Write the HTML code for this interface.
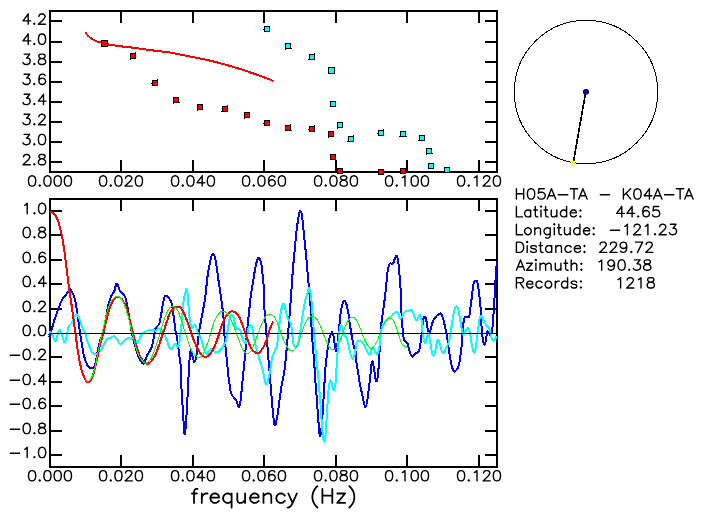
<!DOCTYPE html><html><head><meta charset="utf-8"><title>plot</title><style>html,body{margin:0;padding:0;background:#fff}svg{display:block}text{font-family:"Liberation Sans",sans-serif;fill:#000;stroke:#000;stroke-width:0.3px}</style></head><body>
<svg width="704" height="519" viewBox="0 0 704 519">
<rect width="704" height="519" fill="#fff"/>
<g fill="none" stroke="#000" stroke-width="2" shape-rendering="crispEdges">
<rect x="50" y="11" width="447.0" height="161.0"/>
<rect x="50" y="199" width="447.0" height="268.0"/>
<path d="M121.0,11 v12 M121.0,172 v-12 M121.0,199 v12 M121.0,467 v-12 M193.0,11 v12 M193.0,172 v-12 M193.0,199 v12 M193.0,467 v-12 M264.0,11 v12 M264.0,172 v-12 M264.0,199 v12 M264.0,467 v-12 M336.0,11 v12 M336.0,172 v-12 M336.0,199 v12 M336.0,467 v-12 M407.0,11 v12 M407.0,172 v-12 M407.0,199 v12 M407.0,467 v-12 M479.0,11 v12 M479.0,172 v-12 M479.0,199 v12 M479.0,467 v-12 M50,162 h12 M497,162 h-12 M50,142 h12 M497,142 h-12 M50,122 h12 M497,122 h-12 M50,102 h12 M497,102 h-12 M50,82 h12 M497,82 h-12 M50,62 h12 M497,62 h-12 M50,42 h12 M497,42 h-12 M50,21 h12 M497,21 h-12 M50,455.0 h12 M497,455.0 h-12 M50,431.0 h12 M497,431.0 h-12 M50,406.0 h12 M497,406.0 h-12 M50,382.0 h12 M497,382.0 h-12 M50,357.0 h12 M497,357.0 h-12 M50,309.0 h12 M497,309.0 h-12 M50,284.0 h12 M497,284.0 h-12 M50,260.0 h12 M497,260.0 h-12 M50,235.0 h12 M497,235.0 h-12 M50,211.0 h12 M497,211.0 h-12 "/>
</g>
<g fill="none" stroke-linejoin="round" stroke-linecap="butt" shape-rendering="crispEdges">
<path d="M48.7,335.5 C49.0,335.2 48.9,336.7 49.8,334.5 C50.7,332.4 51.3,330.4 52.5,326.4 C53.8,322.3 53.8,321.7 55.3,317.3 C56.8,312.8 57.2,311.5 58.9,307.3 C60.6,303.0 60.8,302.1 62.5,299.1 C64.2,296.1 64.7,296.5 66.2,294.5 C67.7,292.6 68.1,292.2 68.9,290.9 C69.8,289.6 69.0,288.7 69.8,289.1 C70.7,289.5 71.3,290.0 72.5,292.7 C73.8,295.5 74.2,296.5 75.3,300.9 C76.3,305.4 76.2,306.3 77.1,311.8 C77.9,317.3 78.1,318.6 78.9,324.5 C79.8,330.5 79.9,331.8 80.7,337.3 C81.6,342.8 81.7,343.5 82.5,348.2 C83.4,352.8 83.3,353.5 84.4,357.3 C85.4,361.1 85.8,362.1 87.1,364.5 C88.4,367.0 88.3,367.1 89.8,367.8 C91.3,368.6 92.1,369.0 93.5,367.8 C94.8,366.6 94.7,366.5 95.6,362.7 C96.6,359.0 96.5,356.7 97.5,351.8 C98.4,346.9 98.8,345.2 99.8,341.8 C100.8,338.4 100.8,339.4 101.6,337.3 C102.5,335.2 102.6,336.1 103.5,332.7 C104.3,329.3 104.4,327.6 105.3,322.7 C106.1,317.8 106.2,316.5 107.1,311.8 C107.9,307.2 107.8,306.5 108.9,302.7 C110.0,298.9 110.4,298.2 111.6,295.5 C112.9,292.7 113.2,293.7 114.4,290.9 C115.6,288.2 115.5,283.6 116.7,283.6 C118.0,283.6 118.5,288.6 119.8,290.9 C121.2,293.2 121.3,292.2 122.5,293.6 C123.8,295.1 124.2,294.7 125.3,297.3 C126.3,299.8 126.2,300.3 127.1,304.5 C127.9,308.8 128.1,310.4 128.9,315.5 C129.8,320.5 129.9,321.7 130.7,326.4 C131.6,331.0 131.5,330.8 132.5,335.5 C133.6,340.1 134.0,341.7 135.3,346.4 C136.5,351.0 136.7,352.1 138.0,355.5 C139.3,358.8 139.5,359.0 140.7,360.9 C142.0,362.8 142.4,363.8 143.5,363.6 C144.5,363.4 144.4,361.9 145.3,360.0 C146.1,358.1 146.0,357.6 147.1,355.5 C148.2,353.3 148.8,352.8 149.8,350.9 C150.9,349.0 150.8,350.0 151.6,347.3 C152.5,344.5 152.6,343.3 153.5,339.1 C154.3,334.8 154.4,332.1 155.3,329.1 C156.1,326.1 156.2,327.6 157.1,326.4 C158.0,325.1 158.4,325.8 159.3,323.6 C160.1,321.5 160.0,321.3 160.7,317.3 C161.5,313.2 161.7,311.0 162.5,306.4 C163.4,301.7 163.5,299.7 164.4,297.3 C165.2,294.8 165.1,295.6 166.2,295.8 C167.2,296.0 167.6,296.4 168.9,298.2 C170.2,300.0 170.6,299.6 171.6,303.6 C172.7,307.7 172.6,309.5 173.5,315.5 C174.3,321.4 174.8,325.5 175.3,329.1 C175.7,332.7 175.0,328.6 175.5,330.9 C175.9,333.2 176.4,333.8 177.3,339.1 C178.1,344.4 178.2,346.8 179.1,353.6 C179.9,360.4 180.4,361.0 180.9,368.2 C181.4,375.4 180.9,376.5 181.3,384.5 C181.6,392.6 181.9,394.2 182.4,402.7 C182.9,411.2 182.9,413.7 183.5,420.9 C184.0,428.1 184.0,431.9 184.5,433.6 C185.1,435.3 185.1,433.3 185.6,428.2 C186.1,423.1 186.2,420.3 186.7,411.8 C187.2,403.3 187.3,402.4 187.8,391.8 C188.4,381.2 188.5,375.7 189.1,366.4 C189.7,357.0 189.8,355.2 190.4,351.8 C190.9,348.4 190.9,350.5 191.5,351.8 C192.0,353.1 192.0,354.9 192.7,357.3 C193.4,359.6 193.7,362.2 194.5,361.8 C195.4,361.4 195.5,360.8 196.4,355.5 C197.2,350.2 197.3,345.9 198.2,339.1 C199.0,332.3 198.9,332.7 200.0,326.4 C201.1,320.0 201.5,319.0 202.7,311.8 C204.0,304.6 204.4,303.3 205.5,295.5 C206.5,287.6 206.4,284.8 207.3,278.2 C208.1,271.6 208.2,271.9 209.1,267.3 C209.9,262.6 210.0,261.4 210.9,258.2 C211.8,255.0 212.1,253.6 213.1,253.6 C214.1,253.6 214.2,254.6 215.1,258.2 C216.0,261.8 216.1,263.6 216.9,269.1 C217.8,274.6 217.6,274.0 218.7,281.8 C219.9,289.7 220.7,294.0 221.8,302.7 C223.0,311.4 223.0,311.5 223.6,319.1 C224.3,326.7 223.9,327.0 224.5,335.5 C225.2,343.9 225.5,346.5 226.4,355.5 C227.2,364.4 227.5,367.7 228.2,373.6 C228.8,379.6 228.5,376.5 229.1,380.9 C229.7,385.4 229.8,388.9 230.9,392.7 C232.0,396.5 232.4,395.4 233.6,397.3 C234.9,399.2 235.2,398.7 236.4,400.9 C237.6,403.2 237.8,406.9 238.7,406.9 C239.7,406.9 239.8,405.3 240.5,400.9 C241.3,396.5 241.1,395.4 241.8,388.2 C242.5,381.0 242.8,378.9 243.6,370.0 C244.5,361.1 244.6,359.3 245.5,350.0 C246.3,340.7 246.4,338.9 247.3,330.0 C248.1,321.1 248.2,319.9 249.1,311.8 C249.9,303.8 249.8,303.3 250.9,295.5 C252.0,287.6 252.6,284.8 253.6,278.2 C254.7,271.6 254.6,271.5 255.5,267.3 C256.3,263.0 256.4,262.2 257.3,260.0 C258.1,257.8 258.2,257.4 259.1,257.8 C259.9,258.2 260.1,258.3 260.9,261.8 C261.7,265.3 261.7,267.2 262.4,272.7 C263.0,278.2 263.2,278.0 263.6,285.5 C264.1,292.9 263.8,295.8 264.2,304.5 C264.6,313.2 264.7,313.4 265.5,322.7 C266.2,332.1 266.4,334.4 267.3,344.5 C268.1,354.7 268.2,356.2 269.1,366.4 C269.9,376.5 270.1,378.0 270.9,388.2 C271.8,398.4 271.9,401.5 272.7,410.0 C273.6,418.5 273.7,422.0 274.5,424.5 C275.4,427.1 275.5,424.3 276.4,420.9 C277.2,417.5 277.1,417.2 278.2,410.0 C279.2,402.8 279.6,398.1 280.9,390.0 C282.2,381.9 282.8,380.1 283.6,375.5 C284.5,370.8 283.9,375.5 284.5,370.0 C285.2,364.5 285.5,360.7 286.4,351.8 C287.2,342.9 287.3,341.6 288.2,331.8 C289.0,322.1 288.9,324.6 290.0,310.0 C291.1,295.4 292.0,280.8 292.9,269.1 C293.8,257.4 293.2,266.8 293.8,260.0 C294.5,253.2 294.8,248.5 295.6,240.0 C296.5,231.5 296.6,230.0 297.5,223.6 C298.3,217.3 298.6,215.7 299.3,212.7 C300.0,209.8 299.9,210.3 300.5,210.9 C301.2,211.5 301.4,211.6 302.0,215.5 C302.6,219.3 302.6,221.1 303.3,227.3 C303.9,233.4 304.0,235.0 304.7,241.8 C305.4,248.6 305.5,249.2 306.2,256.4 C306.9,263.6 307.0,265.9 307.6,272.7 C308.2,279.5 308.1,278.9 308.7,285.5 C309.3,292.0 309.6,293.5 310.2,300.9 C310.7,308.3 310.7,309.2 311.1,317.3 C311.5,325.3 311.4,327.0 312.0,335.5 C312.6,343.9 312.8,345.6 313.5,353.6 C314.1,361.7 314.2,362.8 314.7,370.0 C315.2,377.2 315.1,376.9 315.6,384.5 C316.2,392.2 316.5,394.2 317.1,402.7 C317.7,411.2 317.8,413.5 318.4,420.9 C319.0,428.3 319.1,431.6 319.6,434.5 C320.2,437.5 320.2,436.4 320.7,433.6 C321.3,430.9 321.4,429.9 322.0,422.7 C322.6,415.5 322.7,411.6 323.3,402.7 C323.8,393.8 323.8,393.0 324.4,384.5 C324.9,376.1 324.9,374.4 325.6,366.4 C326.4,358.3 326.6,356.4 327.5,350.0 C328.3,343.6 328.4,342.9 329.3,339.1 C330.1,335.3 330.4,335.1 331.1,333.6 C331.8,332.2 331.7,331.9 332.4,332.7 C333.0,333.6 333.1,333.7 333.8,337.3 C334.5,340.9 334.6,345.2 335.3,348.2 C335.9,351.2 336.0,351.7 336.5,350.0 C337.1,348.3 337.2,346.4 337.8,340.9 C338.5,335.4 338.5,333.6 339.3,326.4 C340.0,319.2 340.2,315.5 341.1,310.0 C341.9,304.5 342.1,304.8 342.9,302.7 C343.8,300.6 343.9,300.5 344.7,300.9 C345.6,301.3 345.7,301.6 346.5,304.5 C347.4,307.5 347.5,308.5 348.4,313.6 C349.2,318.7 349.3,320.8 350.2,326.4 C351.0,331.9 351.2,332.6 352.0,337.3 C352.8,341.9 353.0,343.0 353.8,346.4 C354.7,349.8 355.0,348.0 355.6,351.8 C356.3,355.6 355.9,357.6 356.5,362.7 C357.2,367.8 357.7,369.4 358.4,373.6 C359.0,377.9 358.4,376.2 359.3,380.9 C360.1,385.6 360.8,388.1 362.0,393.6 C363.2,399.2 363.5,401.4 364.4,404.5 C365.2,407.6 365.0,407.3 365.6,406.9 C366.2,406.5 366.2,406.7 366.9,402.7 C367.6,398.8 368.0,395.9 368.7,390.0 C369.5,384.1 369.5,383.4 370.2,377.3 C370.9,371.1 371.0,367.0 371.6,363.6 C372.3,360.2 372.3,361.2 372.9,362.7 C373.5,364.2 373.5,366.2 374.2,370.0 C374.8,373.8 375.0,376.8 375.6,379.1 C376.3,381.4 376.5,382.1 377.1,380.0 C377.7,377.9 377.9,375.7 378.4,370.0 C378.9,364.3 378.8,362.7 379.3,355.5 C379.7,348.2 379.8,345.9 380.2,339.1 C380.6,332.3 380.5,332.7 381.1,326.4 C381.7,320.0 382.1,318.2 382.9,311.8 C383.8,305.5 383.9,306.1 384.7,299.1 C385.6,292.1 385.8,288.8 386.5,281.8 C387.3,274.8 387.2,273.3 388.0,269.1 C388.8,264.8 388.7,264.9 389.8,263.6 C391.0,262.4 391.8,264.7 392.9,263.6 C394.1,262.6 393.9,260.9 394.7,259.1 C395.6,257.3 395.8,255.8 396.5,256.0 C397.3,256.2 397.4,256.1 398.0,260.0 C398.6,263.9 398.7,266.8 399.3,272.7 C399.8,278.7 399.9,278.0 400.4,285.5 C400.8,292.9 400.7,296.3 401.1,304.5 C401.5,312.8 401.5,313.7 402.0,320.9 C402.5,328.1 402.6,330.8 403.3,335.5 C403.9,340.1 403.8,339.0 404.7,340.9 C405.7,342.8 406.4,341.5 407.5,343.6 C408.5,345.8 408.4,347.2 409.3,350.0 C410.1,352.8 410.2,354.0 411.1,355.5 C411.9,356.9 411.8,356.8 412.9,356.4 C414.0,355.9 414.4,354.7 415.6,353.6 C416.9,352.6 417.3,353.5 418.4,351.8 C419.4,350.1 419.3,349.8 420.0,346.4 C420.7,343.0 420.7,341.9 421.3,337.3 C421.8,332.6 421.8,330.8 422.4,326.4 C422.9,321.9 422.9,320.3 423.6,318.2 C424.4,316.1 424.7,316.2 425.5,317.3 C426.2,318.3 426.1,319.3 426.7,322.7 C427.4,326.1 427.5,329.3 428.2,331.8 C428.9,334.4 429.0,334.5 429.6,333.6 C430.3,332.8 430.2,330.9 430.9,328.2 C431.6,325.4 431.7,324.4 432.7,321.8 C433.8,319.3 434.2,319.0 435.5,317.3 C436.7,315.6 436.9,315.4 438.2,314.5 C439.5,313.7 439.8,313.0 440.9,313.6 C442.0,314.3 441.9,314.7 442.7,317.3 C443.6,319.8 443.7,320.7 444.5,324.5 C445.4,328.4 445.5,329.0 446.4,333.6 C447.2,338.3 447.3,339.0 448.2,344.5 C449.0,350.1 449.2,352.2 450.0,357.3 C450.8,362.4 451.0,363.2 451.8,366.4 C452.7,369.5 452.8,369.8 453.6,370.9 C454.5,372.0 454.4,371.8 455.5,370.9 C456.5,370.1 457.1,370.0 458.2,367.3 C459.2,364.5 459.2,364.4 460.0,359.1 C460.8,353.8 461.2,351.3 461.8,344.5 C462.5,337.8 462.2,335.9 462.7,330.0 C463.3,324.1 463.3,322.1 464.2,319.1 C465.0,316.1 465.2,317.9 466.4,317.3 C467.5,316.6 468.2,318.5 469.1,316.4 C470.0,314.2 469.7,312.6 470.4,308.2 C471.0,303.7 471.1,302.6 471.8,297.3 C472.5,292.0 472.6,289.1 473.3,285.5 C473.9,281.8 473.9,282.9 474.5,281.8 C475.2,280.8 475.3,280.5 476.0,280.9 C476.7,281.3 476.7,279.0 477.6,283.6 C478.6,288.3 479.2,293.5 480.0,300.9 C480.8,308.3 480.5,308.7 480.9,315.5 C481.3,322.2 481.3,324.1 481.8,330.0 C482.3,335.9 482.5,337.5 483.1,340.9 C483.7,344.3 483.9,345.0 484.5,344.5 C485.2,344.1 485.4,342.1 486.0,339.1 C486.6,336.1 486.6,333.1 487.3,331.8 C488.0,330.5 488.2,332.8 489.1,333.6 C489.9,334.5 490.2,336.3 490.9,335.5 C491.6,334.6 491.6,334.2 492.2,330.0 C492.7,325.8 492.8,323.2 493.3,317.3 C493.7,311.3 493.7,313.2 494.2,304.5 C494.7,295.8 494.9,288.7 495.5,280.0 C496.0,271.3 495.9,271.7 496.4,267.3 C496.8,262.8 497.1,262.4 497.3,260.9" stroke="#0000ff" stroke-width="2"/>
<path d="M48.9,332.2 C49.3,332.3 49.9,332.0 50.7,332.7 C51.6,333.5 51.7,333.8 52.5,335.5 C53.4,337.2 53.5,338.9 54.4,340.0 C55.2,341.1 55.3,341.5 56.2,340.0 C57.0,338.5 57.2,336.0 58.0,333.6 C58.8,331.3 59.0,330.0 59.8,330.0 C60.7,330.0 60.8,331.3 61.6,333.6 C62.5,336.0 62.6,338.1 63.5,340.0 C64.3,341.9 64.4,343.1 65.3,341.8 C66.1,340.5 66.2,338.2 67.1,334.5 C67.9,330.9 67.8,329.1 68.9,326.4 C70.0,323.6 70.4,324.8 71.6,322.7 C72.9,320.6 73.3,319.2 74.4,317.3 C75.4,315.4 75.3,315.0 76.2,314.5 C77.0,314.1 77.2,314.2 78.0,315.5 C78.8,316.7 78.8,317.0 79.8,320.0 C80.9,323.0 81.3,325.0 82.5,328.2 C83.8,331.4 84.2,330.9 85.3,333.6 C86.3,336.4 86.0,336.8 87.1,340.0 C88.2,343.2 88.5,344.3 89.8,347.3 C91.1,350.2 91.3,351.2 92.5,352.7 C93.8,354.3 94.0,354.0 95.3,354.0 C96.5,354.0 96.5,353.9 98.0,352.7 C99.5,351.6 100.2,351.2 101.6,349.1 C103.1,347.0 103.1,346.0 104.4,343.6 C105.6,341.3 105.6,340.5 107.1,339.1 C108.6,337.7 109.0,338.3 110.7,337.6 C112.4,337.0 112.9,336.0 114.4,336.4 C115.8,336.7 115.8,337.4 117.1,339.1 C118.4,340.8 118.5,342.8 119.8,343.6 C121.1,344.5 121.1,343.8 122.5,342.7 C124.0,341.7 124.3,340.3 126.2,339.1 C128.1,337.9 128.8,337.6 130.7,337.6 C132.6,337.6 132.9,337.9 134.4,339.1 C135.8,340.3 136.0,342.5 137.1,342.7 C138.2,342.9 137.8,341.9 138.9,340.0 C140.0,338.1 140.2,336.5 141.6,334.5 C143.1,332.6 143.4,332.9 145.3,331.8 C147.2,330.8 147.9,330.5 149.8,330.0 C151.7,329.5 152.0,329.4 153.5,329.6 C154.9,329.8 155.1,331.2 156.2,330.9 C157.2,330.6 157.2,328.6 158.0,328.2 C158.8,327.8 159.0,328.5 159.8,329.1 C160.7,329.7 160.6,329.6 161.6,330.9 C162.7,332.2 163.1,332.2 164.4,334.5 C165.6,336.9 166.0,338.2 167.1,340.9 C168.2,343.7 167.8,344.5 168.9,346.4 C170.0,348.3 170.7,348.9 171.6,349.1 C172.5,349.3 171.8,348.5 172.7,347.3 C173.6,346.0 174.2,343.8 175.5,343.6 C176.7,343.4 177.1,347.8 178.2,346.4 C179.2,344.9 179.2,343.2 180.0,337.3 C180.8,331.3 181.0,329.4 181.8,320.9 C182.7,312.4 182.8,307.7 183.6,300.9 C184.5,294.1 184.9,294.7 185.5,291.8 C186.0,288.9 185.6,288.5 186.0,288.5 C186.4,288.5 186.8,288.9 187.3,291.8 C187.8,294.7 187.8,295.8 188.2,300.9 C188.6,306.0 188.5,307.7 189.1,313.6 C189.7,319.6 190.1,323.2 190.9,326.4 C191.8,329.5 191.9,327.7 192.7,327.3 C193.6,326.8 193.7,324.5 194.5,324.5 C195.4,324.5 195.5,324.9 196.4,327.3 C197.2,329.6 197.3,332.4 198.2,334.5 C199.0,336.7 199.2,334.9 200.0,336.4 C200.8,337.8 201.0,338.2 201.8,340.9 C202.7,343.7 202.8,345.4 203.6,348.2 C204.5,350.9 204.6,351.5 205.5,352.7 C206.3,354.0 206.4,354.1 207.3,353.6 C208.1,353.2 208.0,352.0 209.1,350.9 C210.2,349.8 210.5,348.9 211.8,349.1 C213.1,349.3 213.1,351.2 214.5,351.8 C216.0,352.5 216.7,352.5 218.2,351.8 C219.7,351.2 219.4,351.0 220.9,349.1 C222.4,347.2 223.3,346.0 224.5,343.6 C225.8,341.3 225.5,343.1 226.4,339.1 C227.2,335.1 227.3,331.5 228.2,326.4 C229.0,321.3 229.2,320.0 230.0,317.3 C230.8,314.5 231.0,314.5 231.8,314.5 C232.7,314.5 232.8,314.5 233.6,317.3 C234.5,320.0 234.6,323.6 235.5,326.4 C236.3,329.1 236.2,328.2 237.3,329.1 C238.3,329.9 238.9,328.3 240.0,330.0 C241.1,331.7 240.8,333.4 241.8,336.4 C242.9,339.3 243.5,341.7 244.5,342.7 C245.6,343.8 245.5,344.1 246.4,340.9 C247.2,337.7 247.1,332.7 248.2,329.1 C249.2,325.5 249.8,325.2 250.9,325.5 C252.0,325.7 251.9,326.4 252.7,330.0 C253.6,333.6 253.5,335.8 254.5,340.9 C255.6,346.0 256.0,347.2 257.3,351.8 C258.5,356.5 258.7,356.7 260.0,360.9 C261.3,365.2 261.7,365.8 262.7,370.0 C263.8,374.2 263.7,375.7 264.5,379.1 C265.4,382.5 265.5,384.5 266.4,384.5 C267.2,384.5 267.3,382.1 268.2,379.1 C269.0,376.1 269.2,376.5 270.0,371.8 C270.8,367.2 270.8,363.8 271.8,359.1 C272.9,354.4 273.3,355.4 274.5,351.8 C275.8,348.2 276.2,349.6 277.3,343.6 C278.3,337.7 278.2,333.8 279.1,326.4 C279.9,318.9 280.1,316.9 280.9,311.8 C281.8,306.7 281.9,306.0 282.7,304.5 C283.6,303.1 283.7,303.3 284.5,305.5 C285.4,307.6 285.5,310.5 286.4,313.6 C287.2,316.8 287.1,316.8 288.2,319.1 C289.2,321.4 290.0,320.5 290.9,323.6 C291.8,326.8 291.5,328.9 292.0,332.7 C292.5,336.5 292.4,336.8 292.9,340.0 C293.4,343.2 293.3,344.7 294.2,346.4 C295.0,348.1 295.6,348.1 296.5,347.3 C297.5,346.4 297.5,346.3 298.4,342.7 C299.2,339.1 299.3,337.3 300.2,331.8 C301.0,326.3 301.2,324.6 302.0,319.1 C302.8,313.6 303.0,312.8 303.8,308.2 C304.7,303.5 304.8,302.7 305.6,299.1 C306.5,295.5 306.6,295.2 307.5,292.7 C308.3,290.3 308.4,287.5 309.3,288.5 C310.1,289.6 310.4,291.8 311.1,297.3 C311.8,302.7 311.8,305.0 312.4,311.8 C312.9,318.6 312.9,319.6 313.5,326.4 C314.0,333.2 314.1,334.1 314.7,340.9 C315.3,347.7 315.4,348.7 316.0,355.5 C316.6,362.2 316.8,363.2 317.5,370.0 C318.1,376.8 318.3,377.3 318.9,384.5 C319.5,391.8 319.6,392.8 320.2,400.9 C320.8,409.0 320.8,411.0 321.5,419.1 C322.1,427.2 322.3,430.2 322.9,435.5 C323.5,440.8 323.6,441.4 324.2,441.8 C324.7,442.2 324.7,442.2 325.3,437.3 C325.8,432.4 326.0,429.0 326.5,420.9 C327.1,412.8 327.1,410.4 327.6,402.7 C328.1,395.1 328.1,393.3 328.7,388.2 C329.3,383.1 329.5,382.2 330.2,380.9 C330.9,379.6 331.0,381.0 331.6,382.7 C332.3,384.4 332.3,386.5 332.9,388.2 C333.5,389.9 333.5,391.3 334.2,390.0 C334.8,388.7 335.1,387.8 335.6,382.7 C336.2,377.6 336.1,375.0 336.5,368.2 C337.0,361.4 336.9,360.8 337.5,353.6 C338.0,346.4 338.3,343.4 338.9,337.3 C339.5,331.1 339.5,329.8 340.2,327.3 C340.9,324.7 341.2,324.9 342.0,326.4 C342.8,327.8 342.8,330.9 343.8,333.6 C344.9,336.4 345.5,335.6 346.5,338.2 C347.6,340.7 347.5,341.2 348.4,344.5 C349.2,347.9 349.3,349.5 350.2,352.7 C351.0,355.9 351.2,357.1 352.0,358.2 C352.8,359.2 353.1,359.2 353.8,357.3 C354.6,355.4 354.6,353.4 355.3,350.0 C355.9,346.6 355.8,344.8 356.5,342.7 C357.3,340.6 357.3,341.2 358.4,340.9 C359.4,340.6 359.8,340.6 361.1,341.5 C362.4,342.3 362.5,342.6 363.8,344.5 C365.1,346.5 365.5,347.9 366.5,350.0 C367.6,352.1 367.5,352.8 368.4,353.6 C369.2,354.5 369.3,354.9 370.2,353.6 C371.0,352.4 371.2,349.5 372.0,348.2 C372.8,346.9 373.0,347.1 373.8,348.2 C374.7,349.2 374.8,351.5 375.6,352.7 C376.5,354.0 376.6,354.7 377.5,353.6 C378.3,352.6 378.6,352.0 379.3,348.2 C379.9,344.4 379.5,342.2 380.2,337.3 C380.8,332.4 380.9,330.7 382.0,327.3 C383.1,323.9 383.5,324.6 384.7,322.7 C386.0,320.8 386.0,320.6 387.5,319.1 C388.9,317.6 389.6,317.6 391.1,316.4 C392.6,315.1 392.5,314.7 393.8,313.6 C395.1,312.6 395.5,311.8 396.5,311.8 C397.6,311.8 397.5,312.2 398.4,313.6 C399.2,315.1 399.3,317.3 400.2,318.2 C401.0,319.0 401.2,318.5 402.0,317.3 C402.8,316.0 402.8,314.2 403.8,312.7 C404.9,311.2 405.3,311.5 406.5,310.9 C407.8,310.4 408.2,310.7 409.3,310.4 C410.3,310.1 410.2,309.3 411.1,309.6 C411.9,310.0 412.1,310.0 412.9,311.8 C413.8,313.6 413.9,315.4 414.7,317.3 C415.6,319.2 415.7,320.0 416.5,320.0 C417.4,320.0 417.4,318.3 418.4,317.3 C419.3,316.2 419.7,314.2 420.5,315.5 C421.4,316.7 421.3,318.5 421.8,322.7 C422.3,327.0 422.2,329.4 422.7,333.6 C423.3,337.9 423.5,338.8 424.2,340.9 C424.8,343.0 424.7,344.0 425.5,342.7 C426.2,341.5 426.6,337.6 427.3,335.5 C428.0,333.3 427.9,332.4 428.5,333.6 C429.2,334.9 429.2,336.7 430.0,340.9 C430.8,345.2 431.0,348.4 431.8,351.8 C432.7,355.2 432.8,355.9 433.6,355.5 C434.5,355.0 434.7,353.2 435.5,350.0 C436.2,346.8 436.3,344.2 436.9,341.8 C437.5,339.5 437.5,339.4 438.2,340.0 C438.9,340.6 439.2,342.0 440.0,344.5 C440.8,347.1 441.0,349.0 441.8,350.9 C442.7,352.8 442.8,353.2 443.6,352.7 C444.5,352.3 444.5,351.0 445.5,349.1 C446.4,347.2 446.8,347.3 447.8,344.5 C448.9,341.8 449.1,341.9 450.0,337.3 C450.9,332.6 451.0,330.1 451.8,324.5 C452.7,319.0 452.8,317.6 453.6,313.6 C454.5,309.7 454.5,309.1 455.5,307.6 C456.4,306.2 456.8,305.9 457.6,307.3 C458.5,308.7 458.3,309.6 459.1,313.6 C459.9,317.7 460.1,319.9 460.9,324.5 C461.8,329.2 461.9,331.7 462.7,333.6 C463.6,335.5 463.7,333.8 464.5,332.7 C465.4,331.7 465.4,330.1 466.4,329.1 C467.3,328.1 467.7,327.5 468.5,328.5 C469.4,329.6 469.2,329.9 470.0,333.6 C470.8,337.4 471.0,340.3 471.8,344.5 C472.7,348.8 472.9,350.3 473.6,351.8 C474.4,353.3 474.5,353.0 475.1,350.9 C475.7,348.8 475.6,348.0 476.4,342.7 C477.1,337.4 477.3,334.1 478.2,328.2 C479.0,322.2 479.2,320.0 480.0,317.3 C480.8,314.5 481.0,315.5 481.8,316.4 C482.7,317.2 482.6,318.8 483.6,320.9 C484.7,323.0 485.1,323.5 486.4,325.5 C487.6,327.4 488.0,326.8 489.1,329.1 C490.2,331.4 490.1,332.9 490.9,335.5 C491.8,338.0 491.9,338.9 492.7,340.0 C493.6,341.1 493.7,340.8 494.5,340.0 C495.4,339.2 495.9,337.2 496.4,336.4" stroke="#00ffff" stroke-width="2"/>
<path d="M49.8,211.3 C50.7,211.8 50.7,211.3 52.5,212.7 C54.4,214.1 53.5,212.7 55.3,215.5 C57.1,218.2 56.5,217.0 58.0,220.9 C59.5,224.8 58.6,222.7 59.8,227.3 C61.0,231.8 60.4,228.5 61.6,234.5 C62.8,240.6 62.2,237.6 63.5,245.5 C64.7,253.3 64.1,249.1 65.3,258.2 C66.5,267.3 65.9,263.0 67.1,272.7 C68.3,282.4 67.7,278.5 68.9,287.3 C70.1,296.1 69.5,290.9 70.7,299.1 C71.9,307.3 71.3,302.7 72.5,311.8 C73.8,320.9 73.2,317.3 74.4,326.4 C75.6,335.5 75.0,330.6 76.2,339.1 C77.4,347.6 76.5,342.7 78.0,351.8 C79.5,360.9 78.9,358.5 80.7,366.4 C82.5,374.2 81.6,370.6 83.5,375.5 C85.3,380.3 84.7,378.8 86.2,380.9 C87.7,383.0 86.5,382.1 88.0,381.8 C89.5,381.5 88.9,382.7 90.7,380.0 C92.5,377.3 91.6,379.4 93.5,373.6 C95.3,367.9 94.4,370.6 96.2,362.7 C98.0,354.8 97.1,357.9 98.9,350.0 C100.7,342.1 99.8,346.4 101.6,339.1 C103.5,331.8 102.5,335.5 104.4,328.2 C106.2,320.9 105.3,323.9 107.1,317.3 C108.9,310.6 108.0,313.3 109.8,308.2 C111.6,303.0 110.7,305.2 112.5,301.8 C114.4,298.5 113.5,299.8 115.3,298.2 C117.1,296.5 116.2,296.9 118.0,296.9 C119.8,296.9 118.9,296.5 120.7,298.2 C122.5,299.8 121.6,298.5 123.5,301.8 C125.3,305.2 124.4,303.0 126.2,308.2 C128.0,313.3 127.1,310.9 128.9,317.3 C130.7,323.6 129.8,320.3 131.6,327.3 C133.5,334.2 132.5,331.2 134.4,338.2 C136.2,345.2 135.3,342.4 137.1,348.2 C138.9,353.9 138.0,351.5 139.8,355.5 C141.6,359.4 140.7,357.6 142.5,360.0 C144.4,362.4 143.5,361.5 145.3,362.7 C147.1,363.9 146.2,363.9 148.0,363.6 C149.8,363.3 148.9,363.6 150.7,361.8 C152.5,360.0 151.6,361.2 153.5,358.2 C155.3,355.2 154.4,357.0 156.2,352.7 C158.0,348.5 157.1,350.6 158.9,345.5 C160.7,340.3 159.8,342.7 161.6,337.3 C163.5,331.8 162.5,334.5 164.4,329.1 C166.2,323.6 165.3,326.1 167.1,320.9 C168.9,315.8 167.9,317.6 169.8,313.6 C171.7,309.7 170.8,311.2 172.7,309.1 C174.6,307.0 173.6,308.0 175.5,307.3 C177.3,306.5 176.4,306.6 178.2,306.9 C180.0,307.2 179.1,306.2 180.9,308.2 C182.7,310.1 181.8,309.1 183.6,312.7 C185.5,316.4 184.5,314.5 186.4,319.1 C188.2,323.6 187.3,321.2 189.1,326.4 C190.9,331.5 190.0,329.4 191.8,334.5 C193.6,339.7 192.7,337.3 194.5,341.8 C196.4,346.4 195.5,344.5 197.3,348.2 C199.1,351.8 198.2,350.3 200.0,352.7 C201.8,355.2 200.9,354.1 202.7,355.5 C204.5,356.8 203.6,356.7 205.5,356.7 C207.3,356.7 206.4,356.8 208.2,355.5 C210.0,354.1 209.1,355.2 210.9,352.7 C212.7,350.3 211.8,351.8 213.6,348.2 C215.5,344.5 214.5,346.7 216.4,341.8 C218.2,337.0 217.3,339.1 219.1,333.6 C220.9,328.2 220.0,330.3 221.8,325.5 C223.6,320.6 222.7,322.7 224.5,319.1 C226.4,315.5 225.5,316.8 227.3,314.5 C229.1,312.2 228.2,313.2 230.0,312.2 C231.8,311.2 230.9,311.3 232.7,311.5 C234.5,311.6 233.6,311.4 235.5,312.7 C237.3,314.1 236.4,312.7 238.2,315.5 C240.0,318.2 239.1,316.7 240.9,320.9 C242.7,325.2 241.8,323.0 243.6,328.2 C245.5,333.3 244.5,331.2 246.4,336.4 C248.2,341.5 247.3,339.4 249.1,343.6 C250.9,347.9 250.0,346.4 251.8,349.1 C253.6,351.8 252.7,350.5 254.5,351.8 C256.4,353.2 255.5,353.1 257.3,353.1 C259.1,353.1 258.2,353.5 260.0,351.8 C261.8,350.2 260.9,351.2 262.7,348.2 C264.5,345.2 263.6,347.3 265.5,342.7 C267.3,338.2 266.4,340.0 268.2,334.5 C270.0,329.1 269.2,330.6 270.9,326.4 C272.6,322.1 272.5,323.3 273.3,321.8" stroke="#ff0000" stroke-width="2"/>
<path d="M85.3,380.5 C85.9,381.0 85.9,381.7 87.1,381.8 C88.3,381.9 87.4,382.4 88.9,380.9 C90.4,379.4 89.8,380.9 91.6,377.3 C93.5,373.6 92.8,375.2 94.4,370.0 C95.9,364.8 95.0,367.9 96.2,361.8 C97.4,355.8 96.5,359.4 98.0,351.8 C99.5,344.2 98.9,347.3 100.7,339.1 C102.5,330.9 101.6,335.2 103.5,327.3 C105.3,319.4 104.4,322.4 106.2,315.5 C108.0,308.5 107.1,311.2 108.9,306.4 C110.7,301.5 109.8,303.8 111.6,300.9 C113.5,298.0 112.5,299.1 114.4,297.6 C116.2,296.2 115.3,296.7 117.1,296.5 C118.9,296.4 118.0,295.8 119.8,297.3 C121.6,298.7 120.7,297.6 122.5,300.9 C124.4,304.2 123.5,302.1 125.3,307.3 C127.1,312.4 126.2,309.7 128.0,316.4 C129.8,323.0 128.9,320.0 130.7,327.3 C132.5,334.5 131.6,331.2 133.5,338.2 C135.3,345.2 134.4,342.4 136.2,348.2 C138.0,353.9 137.1,351.5 138.9,355.5 C140.7,359.4 139.8,357.6 141.6,360.0 C143.5,362.4 142.5,361.8 144.4,362.7 C146.2,363.6 145.3,363.6 147.1,362.7 C148.9,361.8 148.0,362.4 149.8,360.0 C151.6,357.6 150.7,359.4 152.5,355.5 C154.4,351.5 153.5,353.3 155.3,348.2 C157.1,343.0 156.2,345.8 158.0,340.0 C159.8,334.2 158.9,337.0 160.7,330.9 C162.5,324.8 161.6,327.3 163.5,321.8 C165.3,316.4 164.4,318.8 166.2,314.5 C168.0,310.3 167.0,311.7 168.9,309.1 C170.8,306.5 169.9,307.5 171.8,306.7 C173.7,305.9 172.7,305.6 174.5,306.7 C176.4,307.8 175.5,306.8 177.3,310.0 C179.1,313.2 178.2,311.5 180.0,316.4 C181.8,321.2 180.9,318.8 182.7,324.5 C184.5,330.3 183.6,327.9 185.5,333.6 C187.3,339.4 186.4,336.7 188.2,341.8 C190.0,347.0 189.1,345.2 190.9,349.1 C192.7,353.0 191.8,351.2 193.6,353.6 C195.5,356.1 194.5,355.2 196.4,356.4 C198.2,357.6 197.3,357.6 199.1,357.3 C200.9,357.0 200.0,357.6 201.8,355.5 C203.6,353.3 202.7,354.8 204.5,350.9 C206.4,347.0 205.5,348.8 207.3,343.6 C209.1,338.5 208.2,341.2 210.0,335.5 C211.8,329.7 210.9,331.8 212.7,326.4 C214.5,320.9 213.6,323.0 215.5,319.1 C217.3,315.2 216.4,317.0 218.2,314.5 C220.0,312.1 219.1,312.9 220.9,311.8 C222.7,310.7 221.8,311.0 223.6,311.3 C225.5,311.6 224.5,311.0 226.4,312.7 C228.2,314.4 227.3,313.3 229.1,316.4 C230.9,319.4 230.0,317.9 231.8,321.8 C233.6,325.8 232.7,323.6 234.5,328.2 C236.4,332.7 235.5,330.6 237.3,335.5 C239.1,340.3 238.2,338.2 240.0,342.7 C241.8,347.3 240.9,345.8 242.7,349.1 C244.5,352.4 243.6,351.3 245.5,352.7 C247.3,354.1 246.4,353.9 248.2,353.3 C250.0,352.7 249.1,353.5 250.9,350.9 C252.7,348.3 251.8,349.7 253.6,345.5 C255.5,341.2 254.5,343.0 256.4,338.2 C258.2,333.3 257.3,335.8 259.1,330.9 C260.9,326.1 260.0,327.9 261.8,323.6 C263.6,319.4 262.7,321.0 264.5,318.2 C266.4,315.3 265.5,316.4 267.3,315.1 C269.1,313.8 268.2,314.1 270.0,314.2 C271.8,314.3 270.9,313.8 272.7,315.5 C274.5,317.1 273.6,315.8 275.5,319.1 C277.3,322.4 276.4,320.9 278.2,325.5 C280.0,330.0 279.1,327.9 280.9,332.7 C282.7,337.6 281.8,335.8 283.6,340.0 C285.5,344.2 284.5,342.3 286.4,345.5 C288.2,348.6 287.3,347.6 289.1,349.5 C290.9,351.3 289.9,351.0 291.8,350.9 C293.7,350.8 292.8,351.2 294.7,349.1 C296.6,347.0 295.6,348.5 297.5,344.5 C299.3,340.6 298.4,342.4 300.2,337.3 C302.0,332.1 301.1,333.9 302.9,329.1 C304.7,324.2 303.8,326.4 305.6,322.7 C307.5,319.1 306.5,320.2 308.4,318.2 C310.2,316.2 309.3,317.2 311.1,316.7 C312.9,316.3 312.0,316.1 313.8,316.9 C315.6,317.7 314.7,316.8 316.5,319.1 C318.4,321.3 317.5,320.0 319.3,323.6 C321.1,327.3 320.2,325.5 322.0,330.0 C323.8,334.5 322.9,332.7 324.7,337.3 C326.5,341.8 325.6,340.1 327.5,343.6 C329.3,347.2 328.4,345.9 330.2,347.8 C332.0,349.8 331.1,349.2 332.9,349.5 C334.7,349.7 333.8,350.2 335.6,348.5 C337.5,346.9 336.5,348.0 338.4,344.5 C340.2,341.1 339.3,342.7 341.1,338.2 C342.9,333.6 342.0,335.8 343.8,330.9 C345.6,326.1 344.7,327.6 346.5,323.6 C348.4,319.7 347.5,321.2 349.3,319.1 C351.1,317.0 350.2,317.6 352.0,317.3 C353.8,317.0 352.9,316.7 354.7,318.2 C356.5,319.7 355.6,318.5 357.5,321.8 C359.3,325.2 358.4,323.6 360.2,328.2 C362.0,332.7 361.1,330.9 362.9,335.5 C364.7,340.0 363.8,338.2 365.6,341.8 C367.5,345.5 366.5,344.2 368.4,346.4 C370.2,348.5 369.3,348.2 371.1,348.2 C372.9,348.2 372.0,348.5 373.8,346.4 C375.6,344.2 374.7,345.5 376.5,341.8 C378.4,338.2 377.5,340.0 379.3,335.5 C381.1,330.9 380.2,332.4 382.0,328.2 C383.8,323.9 382.9,325.8 384.7,322.7 C386.5,319.7 385.6,320.6 387.5,319.1 C389.3,317.6 388.4,317.9 390.2,318.2 C392.0,318.5 391.1,317.6 392.9,320.0 C394.7,322.4 393.8,320.9 395.6,325.5 C397.5,330.0 396.5,328.2 398.4,333.6 C400.2,339.1 399.3,337.9 401.1,341.8 C402.9,345.8 402.0,343.8 403.8,345.5 C405.6,347.2 405.4,346.3 406.5,346.9 C407.7,347.5 407.0,347.2 407.3,347.3" stroke="#00ff00" stroke-width="1"/>
<path d="M50,333.5 H497" stroke="#000" stroke-width="1"/>
<path d="M85.3,32.5 C86.2,33.6 85.9,33.6 88.0,35.6 C90.1,37.6 88.9,36.7 91.6,38.5 C94.4,40.4 93.2,39.8 96.2,41.1 C99.2,42.4 96.8,41.5 100.7,42.5 C104.7,43.6 102.5,43.3 108.0,44.4 C113.5,45.5 111.0,45.0 117.1,45.8 C123.2,46.7 120.1,46.2 126.2,46.9 C132.2,47.6 129.2,47.2 135.3,48.0 C141.3,48.8 138.3,48.4 144.4,49.3 C150.4,50.1 147.4,49.8 153.5,50.5 C159.5,51.3 157.0,51.0 162.5,51.6 C168.1,52.3 164.5,51.6 170.0,52.5 C175.5,53.5 173.0,53.2 179.1,54.4 C185.2,55.6 182.1,55.0 188.2,56.2 C194.2,57.4 191.2,56.8 197.3,58.0 C203.3,59.2 200.3,58.5 206.4,59.8 C212.4,61.2 209.4,60.5 215.5,62.0 C221.5,63.5 218.5,62.7 224.5,64.4 C230.6,66.1 227.6,65.3 233.6,67.1 C239.7,68.9 236.7,67.9 242.7,69.8 C248.8,71.8 245.8,70.8 251.8,72.9 C257.9,75.0 255.5,74.2 260.9,76.2 C266.4,78.2 264.1,77.3 268.2,78.9 C272.3,80.5 271.6,80.4 273.3,81.1" stroke="#ff0000" stroke-width="2"/>
</g>
<g stroke="#000" stroke-width="1" shape-rendering="crispEdges">
<rect x="101.5" y="40.5" width="6" height="6" fill="#ff0000"/>
<path d="M135.5,53.5 v-1.5 M130.5,58.5 v1.5 " fill="none"/>
<rect x="130.5" y="53.5" width="5" height="5" fill="#ff0000"/>
<path d="M157.5,80.5 v-1.5 M152.5,83.5 h-1.5 " fill="none"/>
<rect x="152.5" y="80.5" width="5" height="5" fill="#ff0000"/>
<path d="M173.5,102.5 v1.5 M178.5,102.5 h1.5 " fill="none"/>
<rect x="173.5" y="97.5" width="5" height="5" fill="#ff0000"/>
<path d="M197.5,109.5 v1.5 " fill="none"/>
<rect x="197.5" y="104.5" width="5" height="5" fill="#ff0000"/>
<path d="M227.5,106.5 v-1.5 M222.5,111.5 h-1.5 " fill="none"/>
<rect x="222.5" y="106.5" width="5" height="5" fill="#ff0000"/>
<path d="M244.5,117.5 v1.5 " fill="none"/>
<rect x="244.5" y="112.5" width="5" height="5" fill="#ff0000"/>
<path d="M264.5,123.5 h-1.5 " fill="none"/>
<rect x="264.5" y="120.5" width="5" height="5" fill="#ff0000"/>
<path d="M290.5,125.5 v-1.5 M290.5,130.5 h1.5 " fill="none"/>
<rect x="285.5" y="125.5" width="5" height="5" fill="#ff0000"/>
<path d="M314.5,126.5 v-1.5 M309.5,129.5 h-1.5 " fill="none"/>
<rect x="309.5" y="126.5" width="5" height="5" fill="#ff0000"/>
<path d="M328.5,136.5 v1.5 " fill="none"/>
<rect x="328.5" y="131.5" width="5" height="5" fill="#ff0000"/>
<rect x="330.5" y="154.5" width="5" height="5" fill="#ff0000"/>
<rect x="337.5" y="168.5" width="5" height="5" fill="#ff0000"/>
<rect x="378.5" y="169.5" width="5" height="5" fill="#ff0000"/>
<rect x="400.5" y="168.5" width="5" height="5" fill="#ff0000"/>
<path d="M264.5,29.5 h-1.5 " fill="none"/>
<rect x="264.5" y="26.5" width="5" height="5" fill="#00ffff"/>
<path d="M285.5,48.5 v1.5 M290.5,48.5 h1.5 " fill="none"/>
<rect x="285.5" y="43.5" width="5" height="5" fill="#00ffff"/>
<path d="M314.5,54.5 v-1.5 M309.5,59.5 h-1.5 " fill="none"/>
<rect x="309.5" y="54.5" width="5" height="5" fill="#00ffff"/>
<rect x="328.5" y="67.5" width="6" height="6" fill="#00ffff"/>
<rect x="330.5" y="101.5" width="5" height="5" fill="#00ffff"/>
<path d="M337.5,127.5 v1.5 " fill="none"/>
<rect x="337.5" y="122.5" width="5" height="5" fill="#00ffff"/>
<path d="M353.5,136.5 v-1.5 M348.5,141.5 h-1.5 " fill="none"/>
<rect x="348.5" y="136.5" width="5" height="5" fill="#00ffff"/>
<path d="M383.5,130.5 v-1.5 M378.5,133.5 h-1.5 " fill="none"/>
<rect x="378.5" y="130.5" width="5" height="5" fill="#00ffff"/>
<path d="M400.5,136.5 h-1.5 M405.5,136.5 h1.5 " fill="none"/>
<rect x="400.5" y="131.5" width="5" height="5" fill="#00ffff"/>
<path d="M419.5,140.5 h-1.5 " fill="none"/>
<rect x="419.5" y="135.5" width="5" height="5" fill="#00ffff"/>
<path d="M431.5,153.5 h1.5 M426.5,153.5 v1.5 " fill="none"/>
<rect x="426.5" y="148.5" width="5" height="5" fill="#00ffff"/>
<rect x="428.5" y="163.5" width="5" height="5" fill="#00ffff"/>
<rect x="444.5" y="167.5" width="5" height="5" fill="#00ffff"/>
</g>
<g>
<g shape-rendering="crispEdges"><circle cx="586" cy="92" r="71.7" fill="none" stroke="#000" stroke-width="1"/>
<path d="M585.7,92 L573.6,161" stroke="#000" stroke-width="1.7" fill="none"/>
<ellipse cx="586" cy="91.8" rx="2.5" ry="2.3" fill="#0000ff" stroke="#000" stroke-width="1.2" shape-rendering="auto"/>
<path d="M570.6,160.7 h4.8 v2.3 q0,2 -2.4,2 q-2.4,0 -2.4,-2 z" fill="#ffff00" shape-rendering="auto"/>
</g>
<path d="M31.6,175.8 L30.0,176.3 L29.0,177.7 L28.5,180.2 L28.5,181.7 L29.0,184.1 L30.0,185.6 L31.6,186.1 L32.6,186.1 L34.1,185.6 L35.2,184.1 L35.7,181.7 L35.7,180.2 L35.2,177.7 L34.1,176.3 L32.6,175.8 L31.6,175.8 M39.8,185.1 L39.2,185.6 L39.8,186.1 L40.3,185.6 L39.8,185.1 M46.9,175.8 L45.4,176.3 L44.4,177.7 L43.9,180.2 L43.9,181.7 L44.4,184.1 L45.4,185.6 L46.9,186.1 L48.0,186.1 L49.5,185.6 L50.5,184.1 L51.0,181.7 L51.0,180.2 L50.5,177.7 L49.5,176.3 L48.0,175.8 L46.9,175.8 M57.2,175.8 L55.6,176.3 L54.6,177.7 L54.1,180.2 L54.1,181.7 L54.6,184.1 L55.6,185.6 L57.2,186.1 L58.2,186.1 L59.7,185.6 L60.8,184.1 L61.3,181.7 L61.3,180.2 L60.8,177.7 L59.7,176.3 L58.2,175.8 L57.2,175.8 M67.4,175.8 L65.9,176.3 L64.8,177.7 L64.3,180.2 L64.3,181.7 L64.8,184.1 L65.9,185.6 L67.4,186.1 L68.4,186.1 L70.0,185.6 L71.0,184.1 L71.5,181.7 L71.5,180.2 L71.0,177.7 L70.0,176.3 L68.4,175.8 L67.4,175.8 M31.6,470.6 L30.0,471.1 L29.0,472.5 L28.5,475.0 L28.5,476.5 L29.0,478.9 L30.0,480.4 L31.6,480.9 L32.6,480.9 L34.1,480.4 L35.2,478.9 L35.7,476.5 L35.7,475.0 L35.2,472.5 L34.1,471.1 L32.6,470.6 L31.6,470.6 M39.8,479.9 L39.2,480.4 L39.8,480.9 L40.3,480.4 L39.8,479.9 M46.9,470.6 L45.4,471.1 L44.4,472.5 L43.9,475.0 L43.9,476.5 L44.4,478.9 L45.4,480.4 L46.9,480.9 L48.0,480.9 L49.5,480.4 L50.5,478.9 L51.0,476.5 L51.0,475.0 L50.5,472.5 L49.5,471.1 L48.0,470.6 L46.9,470.6 M57.2,470.6 L55.6,471.1 L54.6,472.5 L54.1,475.0 L54.1,476.5 L54.6,478.9 L55.6,480.4 L57.2,480.9 L58.2,480.9 L59.7,480.4 L60.8,478.9 L61.3,476.5 L61.3,475.0 L60.8,472.5 L59.7,471.1 L58.2,470.6 L57.2,470.6 M67.4,470.6 L65.9,471.1 L64.8,472.5 L64.3,475.0 L64.3,476.5 L64.8,478.9 L65.9,480.4 L67.4,480.9 L68.4,480.9 L70.0,480.4 L71.0,478.9 L71.5,476.5 L71.5,475.0 L71.0,472.5 L70.0,471.1 L68.4,470.6 L67.4,470.6 M102.6,175.8 L101.0,176.3 L100.0,177.7 L99.5,180.2 L99.5,181.7 L100.0,184.1 L101.0,185.6 L102.6,186.1 L103.6,186.1 L105.1,185.6 L106.2,184.1 L106.7,181.7 L106.7,180.2 L106.2,177.7 L105.1,176.3 L103.6,175.8 L102.6,175.8 M110.8,185.1 L110.2,185.6 L110.8,186.1 L111.3,185.6 L110.8,185.1 M117.9,175.8 L116.4,176.3 L115.4,177.7 L114.9,180.2 L114.9,181.7 L115.4,184.1 L116.4,185.6 L117.9,186.1 L119.0,186.1 L120.5,185.6 L121.5,184.1 L122.0,181.7 L122.0,180.2 L121.5,177.7 L120.5,176.3 L119.0,175.8 L117.9,175.8 M125.6,178.2 L125.6,177.7 L126.1,176.8 L126.6,176.3 L127.7,175.8 L129.7,175.8 L130.7,176.3 L131.2,176.8 L131.8,177.7 L131.8,178.7 L131.2,179.7 L130.2,181.2 L125.1,186.1 L132.3,186.1 M138.4,175.8 L136.9,176.3 L135.8,177.7 L135.3,180.2 L135.3,181.7 L135.8,184.1 L136.9,185.6 L138.4,186.1 L139.4,186.1 L141.0,185.6 L142.0,184.1 L142.5,181.7 L142.5,180.2 L142.0,177.7 L141.0,176.3 L139.4,175.8 L138.4,175.8 M102.6,470.6 L101.0,471.1 L100.0,472.5 L99.5,475.0 L99.5,476.5 L100.0,478.9 L101.0,480.4 L102.6,480.9 L103.6,480.9 L105.1,480.4 L106.2,478.9 L106.7,476.5 L106.7,475.0 L106.2,472.5 L105.1,471.1 L103.6,470.6 L102.6,470.6 M110.8,479.9 L110.2,480.4 L110.8,480.9 L111.3,480.4 L110.8,479.9 M117.9,470.6 L116.4,471.1 L115.4,472.5 L114.9,475.0 L114.9,476.5 L115.4,478.9 L116.4,480.4 L117.9,480.9 L119.0,480.9 L120.5,480.4 L121.5,478.9 L122.0,476.5 L122.0,475.0 L121.5,472.5 L120.5,471.1 L119.0,470.6 L117.9,470.6 M125.6,473.0 L125.6,472.5 L126.1,471.6 L126.6,471.1 L127.7,470.6 L129.7,470.6 L130.7,471.1 L131.2,471.6 L131.8,472.5 L131.8,473.5 L131.2,474.5 L130.2,476.0 L125.1,480.9 L132.3,480.9 M138.4,470.6 L136.9,471.1 L135.8,472.5 L135.3,475.0 L135.3,476.5 L135.8,478.9 L136.9,480.4 L138.4,480.9 L139.4,480.9 L141.0,480.4 L142.0,478.9 L142.5,476.5 L142.5,475.0 L142.0,472.5 L141.0,471.1 L139.4,470.6 L138.4,470.6 M174.6,175.8 L173.0,176.3 L172.0,177.7 L171.5,180.2 L171.5,181.7 L172.0,184.1 L173.0,185.6 L174.6,186.1 L175.6,186.1 L177.1,185.6 L178.2,184.1 L178.7,181.7 L178.7,180.2 L178.2,177.7 L177.1,176.3 L175.6,175.8 L174.6,175.8 M182.8,185.1 L182.2,185.6 L182.8,186.1 L183.3,185.6 L182.8,185.1 M189.9,175.8 L188.4,176.3 L187.4,177.7 L186.9,180.2 L186.9,181.7 L187.4,184.1 L188.4,185.6 L189.9,186.1 L191.0,186.1 L192.5,185.6 L193.5,184.1 L194.0,181.7 L194.0,180.2 L193.5,177.7 L192.5,176.3 L191.0,175.8 L189.9,175.8 M202.2,175.8 L197.1,182.7 L204.8,182.7 M202.2,175.8 L202.2,186.1 M210.4,175.8 L208.9,176.3 L207.8,177.7 L207.3,180.2 L207.3,181.7 L207.8,184.1 L208.9,185.6 L210.4,186.1 L211.4,186.1 L213.0,185.6 L214.0,184.1 L214.5,181.7 L214.5,180.2 L214.0,177.7 L213.0,176.3 L211.4,175.8 L210.4,175.8 M174.6,470.6 L173.0,471.1 L172.0,472.5 L171.5,475.0 L171.5,476.5 L172.0,478.9 L173.0,480.4 L174.6,480.9 L175.6,480.9 L177.1,480.4 L178.2,478.9 L178.7,476.5 L178.7,475.0 L178.2,472.5 L177.1,471.1 L175.6,470.6 L174.6,470.6 M182.8,479.9 L182.2,480.4 L182.8,480.9 L183.3,480.4 L182.8,479.9 M189.9,470.6 L188.4,471.1 L187.4,472.5 L186.9,475.0 L186.9,476.5 L187.4,478.9 L188.4,480.4 L189.9,480.9 L191.0,480.9 L192.5,480.4 L193.5,478.9 L194.0,476.5 L194.0,475.0 L193.5,472.5 L192.5,471.1 L191.0,470.6 L189.9,470.6 M202.2,470.6 L197.1,477.5 L204.8,477.5 M202.2,470.6 L202.2,480.9 M210.4,470.6 L208.9,471.1 L207.8,472.5 L207.3,475.0 L207.3,476.5 L207.8,478.9 L208.9,480.4 L210.4,480.9 L211.4,480.9 L213.0,480.4 L214.0,478.9 L214.5,476.5 L214.5,475.0 L214.0,472.5 L213.0,471.1 L211.4,470.6 L210.4,470.6 M245.6,175.8 L244.0,176.3 L243.0,177.7 L242.5,180.2 L242.5,181.7 L243.0,184.1 L244.0,185.6 L245.6,186.1 L246.6,186.1 L248.1,185.6 L249.2,184.1 L249.7,181.7 L249.7,180.2 L249.2,177.7 L248.1,176.3 L246.6,175.8 L245.6,175.8 M253.8,185.1 L253.2,185.6 L253.8,186.1 L254.3,185.6 L253.8,185.1 M260.9,175.8 L259.4,176.3 L258.4,177.7 L257.9,180.2 L257.9,181.7 L258.4,184.1 L259.4,185.6 L260.9,186.1 L262.0,186.1 L263.5,185.6 L264.5,184.1 L265.0,181.7 L265.0,180.2 L264.5,177.7 L263.5,176.3 L262.0,175.8 L260.9,175.8 M274.8,177.2 L274.2,176.3 L272.7,175.8 L271.7,175.8 L270.1,176.3 L269.1,177.7 L268.6,180.2 L268.6,182.7 L269.1,184.6 L270.1,185.6 L271.7,186.1 L272.2,186.1 L273.7,185.6 L274.8,184.6 L275.3,183.1 L275.3,182.7 L274.8,181.2 L273.7,180.2 L272.2,179.7 L271.7,179.7 L270.1,180.2 L269.1,181.2 L268.6,182.7 M281.4,175.8 L279.9,176.3 L278.8,177.7 L278.3,180.2 L278.3,181.7 L278.8,184.1 L279.9,185.6 L281.4,186.1 L282.4,186.1 L284.0,185.6 L285.0,184.1 L285.5,181.7 L285.5,180.2 L285.0,177.7 L284.0,176.3 L282.4,175.8 L281.4,175.8 M245.6,470.6 L244.0,471.1 L243.0,472.5 L242.5,475.0 L242.5,476.5 L243.0,478.9 L244.0,480.4 L245.6,480.9 L246.6,480.9 L248.1,480.4 L249.2,478.9 L249.7,476.5 L249.7,475.0 L249.2,472.5 L248.1,471.1 L246.6,470.6 L245.6,470.6 M253.8,479.9 L253.2,480.4 L253.8,480.9 L254.3,480.4 L253.8,479.9 M260.9,470.6 L259.4,471.1 L258.4,472.5 L257.9,475.0 L257.9,476.5 L258.4,478.9 L259.4,480.4 L260.9,480.9 L262.0,480.9 L263.5,480.4 L264.5,478.9 L265.0,476.5 L265.0,475.0 L264.5,472.5 L263.5,471.1 L262.0,470.6 L260.9,470.6 M274.8,472.0 L274.2,471.1 L272.7,470.6 L271.7,470.6 L270.1,471.1 L269.1,472.5 L268.6,475.0 L268.6,477.5 L269.1,479.4 L270.1,480.4 L271.7,480.9 L272.2,480.9 L273.7,480.4 L274.8,479.4 L275.3,477.9 L275.3,477.5 L274.8,476.0 L273.7,475.0 L272.2,474.5 L271.7,474.5 L270.1,475.0 L269.1,476.0 L268.6,477.5 M281.4,470.6 L279.9,471.1 L278.8,472.5 L278.3,475.0 L278.3,476.5 L278.8,478.9 L279.9,480.4 L281.4,480.9 L282.4,480.9 L284.0,480.4 L285.0,478.9 L285.5,476.5 L285.5,475.0 L285.0,472.5 L284.0,471.1 L282.4,470.6 L281.4,470.6 M317.6,175.8 L316.0,176.3 L315.0,177.7 L314.5,180.2 L314.5,181.7 L315.0,184.1 L316.0,185.6 L317.6,186.1 L318.6,186.1 L320.1,185.6 L321.2,184.1 L321.7,181.7 L321.7,180.2 L321.2,177.7 L320.1,176.3 L318.6,175.8 L317.6,175.8 M325.8,185.1 L325.2,185.6 L325.8,186.1 L326.3,185.6 L325.8,185.1 M332.9,175.8 L331.4,176.3 L330.4,177.7 L329.9,180.2 L329.9,181.7 L330.4,184.1 L331.4,185.6 L332.9,186.1 L334.0,186.1 L335.5,185.6 L336.5,184.1 L337.0,181.7 L337.0,180.2 L336.5,177.7 L335.5,176.3 L334.0,175.8 L332.9,175.8 M342.7,175.8 L341.1,176.3 L340.6,177.2 L340.6,178.2 L341.1,179.2 L342.1,179.7 L344.2,180.2 L345.7,180.7 L346.8,181.7 L347.3,182.7 L347.3,184.1 L346.8,185.1 L346.2,185.6 L344.7,186.1 L342.7,186.1 L341.1,185.6 L340.6,185.1 L340.1,184.1 L340.1,182.7 L340.6,181.7 L341.6,180.7 L343.2,180.2 L345.2,179.7 L346.2,179.2 L346.8,178.2 L346.8,177.2 L346.2,176.3 L344.7,175.8 L342.7,175.8 M353.4,175.8 L351.9,176.3 L350.8,177.7 L350.3,180.2 L350.3,181.7 L350.8,184.1 L351.9,185.6 L353.4,186.1 L354.4,186.1 L356.0,185.6 L357.0,184.1 L357.5,181.7 L357.5,180.2 L357.0,177.7 L356.0,176.3 L354.4,175.8 L353.4,175.8 M317.6,470.6 L316.0,471.1 L315.0,472.5 L314.5,475.0 L314.5,476.5 L315.0,478.9 L316.0,480.4 L317.6,480.9 L318.6,480.9 L320.1,480.4 L321.2,478.9 L321.7,476.5 L321.7,475.0 L321.2,472.5 L320.1,471.1 L318.6,470.6 L317.6,470.6 M325.8,479.9 L325.2,480.4 L325.8,480.9 L326.3,480.4 L325.8,479.9 M332.9,470.6 L331.4,471.1 L330.4,472.5 L329.9,475.0 L329.9,476.5 L330.4,478.9 L331.4,480.4 L332.9,480.9 L334.0,480.9 L335.5,480.4 L336.5,478.9 L337.0,476.5 L337.0,475.0 L336.5,472.5 L335.5,471.1 L334.0,470.6 L332.9,470.6 M342.7,470.6 L341.1,471.1 L340.6,472.0 L340.6,473.0 L341.1,474.0 L342.1,474.5 L344.2,475.0 L345.7,475.5 L346.8,476.5 L347.3,477.5 L347.3,478.9 L346.8,479.9 L346.2,480.4 L344.7,480.9 L342.7,480.9 L341.1,480.4 L340.6,479.9 L340.1,478.9 L340.1,477.5 L340.6,476.5 L341.6,475.5 L343.2,475.0 L345.2,474.5 L346.2,474.0 L346.8,473.0 L346.8,472.0 L346.2,471.1 L344.7,470.6 L342.7,470.6 M353.4,470.6 L351.9,471.1 L350.8,472.5 L350.3,475.0 L350.3,476.5 L350.8,478.9 L351.9,480.4 L353.4,480.9 L354.4,480.9 L356.0,480.4 L357.0,478.9 L357.5,476.5 L357.5,475.0 L357.0,472.5 L356.0,471.1 L354.4,470.6 L353.4,470.6 M388.6,175.8 L387.0,176.3 L386.0,177.7 L385.5,180.2 L385.5,181.7 L386.0,184.1 L387.0,185.6 L388.6,186.1 L389.6,186.1 L391.1,185.6 L392.2,184.1 L392.7,181.7 L392.7,180.2 L392.2,177.7 L391.1,176.3 L389.6,175.8 L388.6,175.8 M396.8,185.1 L396.2,185.6 L396.8,186.1 L397.3,185.6 L396.8,185.1 M402.4,177.7 L403.4,177.2 L405.0,175.8 L405.0,186.1 M414.2,175.8 L412.6,176.3 L411.6,177.7 L411.1,180.2 L411.1,181.7 L411.6,184.1 L412.6,185.6 L414.2,186.1 L415.2,186.1 L416.7,185.6 L417.8,184.1 L418.3,181.7 L418.3,180.2 L417.8,177.7 L416.7,176.3 L415.2,175.8 L414.2,175.8 M424.4,175.8 L422.9,176.3 L421.8,177.7 L421.3,180.2 L421.3,181.7 L421.8,184.1 L422.9,185.6 L424.4,186.1 L425.4,186.1 L427.0,185.6 L428.0,184.1 L428.5,181.7 L428.5,180.2 L428.0,177.7 L427.0,176.3 L425.4,175.8 L424.4,175.8 M388.6,470.6 L387.0,471.1 L386.0,472.5 L385.5,475.0 L385.5,476.5 L386.0,478.9 L387.0,480.4 L388.6,480.9 L389.6,480.9 L391.1,480.4 L392.2,478.9 L392.7,476.5 L392.7,475.0 L392.2,472.5 L391.1,471.1 L389.6,470.6 L388.6,470.6 M396.8,479.9 L396.2,480.4 L396.8,480.9 L397.3,480.4 L396.8,479.9 M402.4,472.5 L403.4,472.0 L405.0,470.6 L405.0,480.9 M414.2,470.6 L412.6,471.1 L411.6,472.5 L411.1,475.0 L411.1,476.5 L411.6,478.9 L412.6,480.4 L414.2,480.9 L415.2,480.9 L416.7,480.4 L417.8,478.9 L418.3,476.5 L418.3,475.0 L417.8,472.5 L416.7,471.1 L415.2,470.6 L414.2,470.6 M424.4,470.6 L422.9,471.1 L421.8,472.5 L421.3,475.0 L421.3,476.5 L421.8,478.9 L422.9,480.4 L424.4,480.9 L425.4,480.9 L427.0,480.4 L428.0,478.9 L428.5,476.5 L428.5,475.0 L428.0,472.5 L427.0,471.1 L425.4,470.6 L424.4,470.6 M460.6,175.8 L459.0,176.3 L458.0,177.7 L457.5,180.2 L457.5,181.7 L458.0,184.1 L459.0,185.6 L460.6,186.1 L461.6,186.1 L463.1,185.6 L464.2,184.1 L464.7,181.7 L464.7,180.2 L464.2,177.7 L463.1,176.3 L461.6,175.8 L460.6,175.8 M468.8,185.1 L468.2,185.6 L468.8,186.1 L469.3,185.6 L468.8,185.1 M474.4,177.7 L475.4,177.2 L477.0,175.8 L477.0,186.1 M483.6,178.2 L483.6,177.7 L484.1,176.8 L484.6,176.3 L485.7,175.8 L487.7,175.8 L488.7,176.3 L489.2,176.8 L489.8,177.7 L489.8,178.7 L489.2,179.7 L488.2,181.2 L483.1,186.1 L490.3,186.1 M496.4,175.8 L494.9,176.3 L493.8,177.7 L493.3,180.2 L493.3,181.7 L493.8,184.1 L494.9,185.6 L496.4,186.1 L497.4,186.1 L499.0,185.6 L500.0,184.1 L500.5,181.7 L500.5,180.2 L500.0,177.7 L499.0,176.3 L497.4,175.8 L496.4,175.8 M460.6,470.6 L459.0,471.1 L458.0,472.5 L457.5,475.0 L457.5,476.5 L458.0,478.9 L459.0,480.4 L460.6,480.9 L461.6,480.9 L463.1,480.4 L464.2,478.9 L464.7,476.5 L464.7,475.0 L464.2,472.5 L463.1,471.1 L461.6,470.6 L460.6,470.6 M468.8,479.9 L468.2,480.4 L468.8,480.9 L469.3,480.4 L468.8,479.9 M474.4,472.5 L475.4,472.0 L477.0,470.6 L477.0,480.9 M483.6,473.0 L483.6,472.5 L484.1,471.6 L484.6,471.1 L485.7,470.6 L487.7,470.6 L488.7,471.1 L489.2,471.6 L489.8,472.5 L489.8,473.5 L489.2,474.5 L488.2,476.0 L483.1,480.9 L490.3,480.9 M496.4,470.6 L494.9,471.1 L493.8,472.5 L493.3,475.0 L493.3,476.5 L493.8,478.9 L494.9,480.4 L496.4,480.9 L497.4,480.9 L499.0,480.4 L500.0,478.9 L500.5,476.5 L500.5,475.0 L500.0,472.5 L499.0,471.1 L497.4,470.6 L496.4,470.6 M23.5,156.9 L23.5,156.4 L24.1,155.5 L24.6,155.0 L25.6,154.5 L27.6,154.5 L28.7,155.0 L29.2,155.5 L29.7,156.4 L29.7,157.4 L29.2,158.4 L28.2,159.9 L23.0,164.8 L30.2,164.8 M34.3,163.8 L33.8,164.3 L34.3,164.8 L34.8,164.3 L34.3,163.8 M41.0,154.5 L39.4,155.0 L38.9,155.9 L38.9,156.9 L39.4,157.9 L40.4,158.4 L42.5,158.9 L44.0,159.4 L45.1,160.4 L45.6,161.4 L45.6,162.8 L45.1,163.8 L44.5,164.3 L43.0,164.8 L41.0,164.8 L39.4,164.3 L38.9,163.8 L38.4,162.8 L38.4,161.4 L38.9,160.4 L39.9,159.4 L41.5,158.9 L43.5,158.4 L44.5,157.9 L45.1,156.9 L45.1,155.9 L44.5,155.0 L43.0,154.5 L41.0,154.5 M24.1,134.4 L29.7,134.4 L26.6,138.3 L28.2,138.3 L29.2,138.8 L29.7,139.3 L30.2,140.8 L30.2,141.8 L29.7,143.3 L28.7,144.2 L27.1,144.7 L25.6,144.7 L24.1,144.2 L23.5,143.7 L23.0,142.8 M34.3,143.7 L33.8,144.2 L34.3,144.7 L34.8,144.2 L34.3,143.7 M41.5,134.4 L39.9,134.9 L38.9,136.4 L38.4,138.8 L38.4,140.3 L38.9,142.8 L39.9,144.2 L41.5,144.7 L42.5,144.7 L44.0,144.2 L45.1,142.8 L45.6,140.3 L45.6,138.8 L45.1,136.4 L44.0,134.9 L42.5,134.4 L41.5,134.4 M24.1,114.3 L29.7,114.3 L26.6,118.3 L28.2,118.3 L29.2,118.8 L29.7,119.2 L30.2,120.7 L30.2,121.7 L29.7,123.2 L28.7,124.2 L27.1,124.7 L25.6,124.7 L24.1,124.2 L23.5,123.7 L23.0,122.7 M34.3,123.7 L33.8,124.2 L34.3,124.7 L34.8,124.2 L34.3,123.7 M38.9,116.8 L38.9,116.3 L39.4,115.3 L39.9,114.8 L41.0,114.3 L43.0,114.3 L44.0,114.8 L44.5,115.3 L45.1,116.3 L45.1,117.3 L44.5,118.3 L43.5,119.7 L38.4,124.7 L45.6,124.7 M24.1,94.3 L29.7,94.3 L26.6,98.2 L28.2,98.2 L29.2,98.7 L29.7,99.2 L30.2,100.7 L30.2,101.6 L29.7,103.1 L28.7,104.1 L27.1,104.6 L25.6,104.6 L24.1,104.1 L23.5,103.6 L23.0,102.6 M34.3,103.6 L33.8,104.1 L34.3,104.6 L34.8,104.1 L34.3,103.6 M43.5,94.3 L38.4,101.1 L46.1,101.1 M43.5,94.3 L43.5,104.6 M24.1,74.2 L29.7,74.2 L26.6,78.1 L28.2,78.1 L29.2,78.6 L29.7,79.1 L30.2,80.6 L30.2,81.6 L29.7,83.0 L28.7,84.0 L27.1,84.5 L25.6,84.5 L24.1,84.0 L23.5,83.5 L23.0,82.6 M34.3,83.5 L33.8,84.0 L34.3,84.5 L34.8,84.0 L34.3,83.5 M45.1,75.7 L44.5,74.7 L43.0,74.2 L42.0,74.2 L40.4,74.7 L39.4,76.2 L38.9,78.6 L38.9,81.1 L39.4,83.0 L40.4,84.0 L42.0,84.5 L42.5,84.5 L44.0,84.0 L45.1,83.0 L45.6,81.6 L45.6,81.1 L45.1,79.6 L44.0,78.6 L42.5,78.1 L42.0,78.1 L40.4,78.6 L39.4,79.6 L38.9,81.1 M24.1,54.1 L29.7,54.1 L26.6,58.1 L28.2,58.1 L29.2,58.5 L29.7,59.0 L30.2,60.5 L30.2,61.5 L29.7,63.0 L28.7,64.0 L27.1,64.5 L25.6,64.5 L24.1,64.0 L23.5,63.5 L23.0,62.5 M34.3,63.5 L33.8,64.0 L34.3,64.5 L34.8,64.0 L34.3,63.5 M41.0,54.1 L39.4,54.6 L38.9,55.6 L38.9,56.6 L39.4,57.6 L40.4,58.1 L42.5,58.5 L44.0,59.0 L45.1,60.0 L45.6,61.0 L45.6,62.5 L45.1,63.5 L44.5,64.0 L43.0,64.5 L41.0,64.5 L39.4,64.0 L38.9,63.5 L38.4,62.5 L38.4,61.0 L38.9,60.0 L39.9,59.0 L41.5,58.5 L43.5,58.1 L44.5,57.6 L45.1,56.6 L45.1,55.6 L44.5,54.6 L43.0,54.1 L41.0,54.1 M28.2,34.0 L23.0,40.9 L30.7,40.9 M28.2,34.0 L28.2,44.4 M34.3,43.4 L33.8,43.9 L34.3,44.4 L34.8,43.9 L34.3,43.4 M41.5,34.0 L39.9,34.5 L38.9,36.0 L38.4,38.5 L38.4,40.0 L38.9,42.4 L39.9,43.9 L41.5,44.4 L42.5,44.4 L44.0,43.9 L45.1,42.4 L45.6,40.0 L45.6,38.5 L45.1,36.0 L44.0,34.5 L42.5,34.0 L41.5,34.0 M28.2,14.0 L23.0,20.9 L30.7,20.9 M28.2,14.0 L28.2,24.3 M34.3,23.3 L33.8,23.8 L34.3,24.3 L34.8,23.8 L34.3,23.3 M38.9,16.4 L38.9,15.9 L39.4,15.0 L39.9,14.5 L41.0,14.0 L43.0,14.0 L44.0,14.5 L44.5,15.0 L45.1,15.9 L45.1,16.9 L44.5,17.9 L43.5,19.4 L38.4,24.3 L45.6,24.3 M10.3,453.2 L19.6,453.2 M24.7,449.3 L25.7,448.8 L27.2,447.3 L27.2,457.6 M34.4,456.7 L33.9,457.2 L34.4,457.6 L34.9,457.2 L34.4,456.7 M41.6,447.3 L40.0,447.8 L39.0,449.3 L38.5,451.7 L38.5,453.2 L39.0,455.7 L40.0,457.2 L41.6,457.6 L42.6,457.6 L44.1,457.2 L45.2,455.7 L45.7,453.2 L45.7,451.7 L45.2,449.3 L44.1,447.8 L42.6,447.3 L41.6,447.3 M10.3,429.2 L19.6,429.2 M26.2,423.3 L24.7,423.8 L23.6,425.3 L23.1,427.7 L23.1,429.2 L23.6,431.7 L24.7,433.2 L26.2,433.6 L27.2,433.6 L28.8,433.2 L29.8,431.7 L30.3,429.2 L30.3,427.7 L29.8,425.3 L28.8,423.8 L27.2,423.3 L26.2,423.3 M34.4,432.7 L33.9,433.2 L34.4,433.6 L34.9,433.2 L34.4,432.7 M41.1,423.3 L39.5,423.8 L39.0,424.8 L39.0,425.8 L39.5,426.8 L40.5,427.3 L42.6,427.7 L44.1,428.2 L45.2,429.2 L45.7,430.2 L45.7,431.7 L45.2,432.7 L44.6,433.2 L43.1,433.6 L41.1,433.6 L39.5,433.2 L39.0,432.7 L38.5,431.7 L38.5,430.2 L39.0,429.2 L40.0,428.2 L41.6,427.7 L43.6,427.3 L44.6,426.8 L45.2,425.8 L45.2,424.8 L44.6,423.8 L43.1,423.3 L41.1,423.3 M10.3,404.2 L19.6,404.2 M26.2,398.3 L24.7,398.8 L23.6,400.3 L23.1,402.7 L23.1,404.2 L23.6,406.7 L24.7,408.2 L26.2,408.6 L27.2,408.6 L28.8,408.2 L29.8,406.7 L30.3,404.2 L30.3,402.7 L29.8,400.3 L28.8,398.8 L27.2,398.3 L26.2,398.3 M34.4,407.7 L33.9,408.2 L34.4,408.6 L34.9,408.2 L34.4,407.7 M45.2,399.8 L44.6,398.8 L43.1,398.3 L42.1,398.3 L40.5,398.8 L39.5,400.3 L39.0,402.7 L39.0,405.2 L39.5,407.2 L40.5,408.2 L42.1,408.6 L42.6,408.6 L44.1,408.2 L45.2,407.2 L45.7,405.7 L45.7,405.2 L45.2,403.7 L44.1,402.7 L42.6,402.3 L42.1,402.3 L40.5,402.7 L39.5,403.7 L39.0,405.2 M10.3,380.2 L19.6,380.2 M26.2,374.3 L24.7,374.8 L23.6,376.3 L23.1,378.7 L23.1,380.2 L23.6,382.7 L24.7,384.2 L26.2,384.6 L27.2,384.6 L28.8,384.2 L29.8,382.7 L30.3,380.2 L30.3,378.7 L29.8,376.3 L28.8,374.8 L27.2,374.3 L26.2,374.3 M34.4,383.7 L33.9,384.2 L34.4,384.6 L34.9,384.2 L34.4,383.7 M43.6,374.3 L38.5,381.2 L46.2,381.2 M43.6,374.3 L43.6,384.6 M10.3,355.2 L19.6,355.2 M26.2,349.3 L24.7,349.8 L23.6,351.3 L23.1,353.7 L23.1,355.2 L23.6,357.7 L24.7,359.2 L26.2,359.6 L27.2,359.6 L28.8,359.2 L29.8,357.7 L30.3,355.2 L30.3,353.7 L29.8,351.3 L28.8,349.8 L27.2,349.3 L26.2,349.3 M34.4,358.7 L33.9,359.2 L34.4,359.6 L34.9,359.2 L34.4,358.7 M39.0,351.8 L39.0,351.3 L39.5,350.3 L40.0,349.8 L41.1,349.3 L43.1,349.3 L44.1,349.8 L44.6,350.3 L45.2,351.3 L45.2,352.3 L44.6,353.3 L43.6,354.7 L38.5,359.6 L45.7,359.6 M26.2,325.3 L24.7,325.8 L23.6,327.3 L23.1,329.7 L23.1,331.2 L23.6,333.7 L24.7,335.2 L26.2,335.6 L27.2,335.6 L28.8,335.2 L29.8,333.7 L30.3,331.2 L30.3,329.7 L29.8,327.3 L28.8,325.8 L27.2,325.3 L26.2,325.3 M34.4,334.7 L33.9,335.2 L34.4,335.6 L34.9,335.2 L34.4,334.7 M41.6,325.3 L40.0,325.8 L39.0,327.3 L38.5,329.7 L38.5,331.2 L39.0,333.7 L40.0,335.2 L41.6,335.6 L42.6,335.6 L44.1,335.2 L45.2,333.7 L45.7,331.2 L45.7,329.7 L45.2,327.3 L44.1,325.8 L42.6,325.3 L41.6,325.3 M26.2,301.3 L24.7,301.8 L23.6,303.3 L23.1,305.7 L23.1,307.2 L23.6,309.7 L24.7,311.2 L26.2,311.6 L27.2,311.6 L28.8,311.2 L29.8,309.7 L30.3,307.2 L30.3,305.7 L29.8,303.3 L28.8,301.8 L27.2,301.3 L26.2,301.3 M34.4,310.7 L33.9,311.2 L34.4,311.6 L34.9,311.2 L34.4,310.7 M39.0,303.8 L39.0,303.3 L39.5,302.3 L40.0,301.8 L41.1,301.3 L43.1,301.3 L44.1,301.8 L44.6,302.3 L45.2,303.3 L45.2,304.3 L44.6,305.3 L43.6,306.7 L38.5,311.6 L45.7,311.6 M26.2,276.3 L24.7,276.8 L23.6,278.3 L23.1,280.7 L23.1,282.2 L23.6,284.7 L24.7,286.2 L26.2,286.6 L27.2,286.6 L28.8,286.2 L29.8,284.7 L30.3,282.2 L30.3,280.7 L29.8,278.3 L28.8,276.8 L27.2,276.3 L26.2,276.3 M34.4,285.7 L33.9,286.2 L34.4,286.6 L34.9,286.2 L34.4,285.7 M43.6,276.3 L38.5,283.2 L46.2,283.2 M43.6,276.3 L43.6,286.6 M26.2,252.3 L24.7,252.8 L23.6,254.3 L23.1,256.7 L23.1,258.2 L23.6,260.7 L24.7,262.2 L26.2,262.6 L27.2,262.6 L28.8,262.2 L29.8,260.7 L30.3,258.2 L30.3,256.7 L29.8,254.3 L28.8,252.8 L27.2,252.3 L26.2,252.3 M34.4,261.7 L33.9,262.2 L34.4,262.6 L34.9,262.2 L34.4,261.7 M45.2,253.8 L44.6,252.8 L43.1,252.3 L42.1,252.3 L40.5,252.8 L39.5,254.3 L39.0,256.7 L39.0,259.2 L39.5,261.2 L40.5,262.2 L42.1,262.6 L42.6,262.6 L44.1,262.2 L45.2,261.2 L45.7,259.7 L45.7,259.2 L45.2,257.7 L44.1,256.7 L42.6,256.3 L42.1,256.3 L40.5,256.7 L39.5,257.7 L39.0,259.2 M26.2,227.3 L24.7,227.8 L23.6,229.3 L23.1,231.7 L23.1,233.2 L23.6,235.7 L24.7,237.2 L26.2,237.7 L27.2,237.7 L28.8,237.2 L29.8,235.7 L30.3,233.2 L30.3,231.7 L29.8,229.3 L28.8,227.8 L27.2,227.3 L26.2,227.3 M34.4,236.7 L33.9,237.2 L34.4,237.7 L34.9,237.2 L34.4,236.7 M41.1,227.3 L39.5,227.8 L39.0,228.8 L39.0,229.8 L39.5,230.8 L40.5,231.3 L42.6,231.7 L44.1,232.2 L45.2,233.2 L45.7,234.2 L45.7,235.7 L45.2,236.7 L44.6,237.2 L43.1,237.7 L41.1,237.7 L39.5,237.2 L39.0,236.7 L38.5,235.7 L38.5,234.2 L39.0,233.2 L40.0,232.2 L41.6,231.7 L43.6,231.3 L44.6,230.8 L45.2,229.8 L45.2,228.8 L44.6,227.8 L43.1,227.3 L41.1,227.3 M24.7,205.3 L25.7,204.8 L27.2,203.3 L27.2,213.7 M34.4,212.7 L33.9,213.2 L34.4,213.7 L34.9,213.2 L34.4,212.7 M41.6,203.3 L40.0,203.8 L39.0,205.3 L38.5,207.7 L38.5,209.2 L39.0,211.7 L40.0,213.2 L41.6,213.7 L42.6,213.7 L44.1,213.2 L45.2,211.7 L45.7,209.2 L45.7,207.7 L45.2,205.3 L44.1,203.8 L42.6,203.3 L41.6,203.3 M516.4,188.8 L516.4,199.1 M523.7,188.8 L523.7,199.1 M516.4,193.7 L523.7,193.7 M530.5,188.8 L529.0,189.3 L527.9,190.7 L527.4,193.2 L527.4,194.7 L527.9,197.1 L529.0,198.6 L530.5,199.1 L531.6,199.1 L533.2,198.6 L534.2,197.1 L534.7,194.7 L534.7,193.2 L534.2,190.7 L533.2,189.3 L531.6,188.8 L530.5,188.8 M544.2,188.8 L538.9,188.8 L538.4,193.2 L538.9,192.7 L540.5,192.2 L542.1,192.2 L543.6,192.7 L544.7,193.7 L545.2,195.2 L545.2,196.1 L544.7,197.6 L543.6,198.6 L542.1,199.1 L540.5,199.1 L538.9,198.6 L538.4,198.1 L537.9,197.1 M551.5,188.8 L547.3,199.1 M551.5,188.8 L555.7,199.1 M548.9,195.7 L554.1,195.7 M558.3,194.7 L567.8,194.7 M574.0,188.8 L574.0,199.1 M570.4,188.8 L577.7,188.8 M582.9,188.8 L578.8,199.1 M582.9,188.8 L587.1,199.1 M580.3,195.7 L585.6,195.7 M600.3,194.7 L609.5,194.7 M623.4,188.8 L623.4,199.1 M630.7,188.8 L623.4,195.7 M626.0,193.2 L630.7,199.1 M636.9,188.8 L635.4,189.3 L634.3,190.7 L633.8,193.2 L633.8,194.7 L634.3,197.1 L635.4,198.6 L636.9,199.1 L638.0,199.1 L639.5,198.6 L640.6,197.1 L641.1,194.7 L641.1,193.2 L640.6,190.7 L639.5,189.3 L638.0,188.8 L636.9,188.8 M649.4,188.8 L644.2,195.7 L652.0,195.7 M649.4,188.8 L649.4,199.1 M657.7,188.8 L653.6,199.1 M657.7,188.8 L661.9,199.1 M655.1,195.7 L660.3,195.7 M664.5,194.7 L673.8,194.7 M680.1,188.8 L680.1,199.1 M676.4,188.8 L683.7,188.8 M688.9,188.8 L684.8,199.1 M688.9,188.8 L693.1,199.1 M686.3,195.7 L691.5,195.7 M516.4,206.5 L516.4,216.9 M516.4,216.9 L522.5,216.9 M530.7,210.0 L530.7,216.9 M530.7,211.5 L529.7,210.5 L528.7,210.0 L527.2,210.0 L526.1,210.5 L525.1,211.5 L524.6,212.9 L524.6,213.9 L525.1,215.4 L526.1,216.4 L527.2,216.9 L528.7,216.9 L529.7,216.4 L530.7,215.4 M535.3,206.5 L535.3,214.9 L535.9,216.4 L536.9,216.9 L537.9,216.9 M533.8,210.0 L537.4,210.0 M540.5,206.5 L541.0,207.0 L541.5,206.5 L541.0,206.1 L540.5,206.5 M541.0,210.0 L541.0,216.9 M545.6,206.5 L545.6,214.9 L546.1,216.4 L547.1,216.9 L548.1,216.9 M544.0,210.0 L547.6,210.0 M551.2,210.0 L551.2,214.9 L551.7,216.4 L552.8,216.9 L554.3,216.9 L555.3,216.4 L556.8,214.9 M556.8,210.0 L556.8,216.9 M566.6,206.5 L566.6,216.9 M566.6,211.5 L565.6,210.5 L564.5,210.0 L563.0,210.0 L562.0,210.5 L560.9,211.5 L560.4,212.9 L560.4,213.9 L560.9,215.4 L562.0,216.4 L563.0,216.9 L564.5,216.9 L565.6,216.4 L566.6,215.4 M570.2,212.9 L576.3,212.9 L576.3,212.0 L575.8,211.0 L575.3,210.5 L574.3,210.0 L572.7,210.0 L571.7,210.5 L570.7,211.5 L570.2,212.9 L570.2,213.9 L570.7,215.4 L571.7,216.4 L572.7,216.9 L574.3,216.9 L575.3,216.4 L576.3,215.4 M580.4,210.0 L579.9,210.5 L580.4,211.0 L580.9,210.5 L580.4,210.0 M580.4,215.9 L579.9,216.4 L580.4,216.9 L580.9,216.4 L580.4,215.9 M621.8,206.5 L616.7,213.4 L624.4,213.4 M621.8,206.5 L621.8,216.9 M632.1,206.5 L626.9,213.4 L634.6,213.4 M632.1,206.5 L632.1,216.9 M638.2,215.9 L637.7,216.4 L638.2,216.9 L638.7,216.4 L638.2,215.9 M649.0,208.0 L648.4,207.0 L646.9,206.5 L645.9,206.5 L644.3,207.0 L643.3,208.5 L642.8,211.0 L642.8,213.4 L643.3,215.4 L644.3,216.4 L645.9,216.9 L646.4,216.9 L647.9,216.4 L649.0,215.4 L649.5,213.9 L649.5,213.4 L649.0,212.0 L647.9,211.0 L646.4,210.5 L645.9,210.5 L644.3,211.0 L643.3,212.0 L642.8,213.4 M658.7,206.5 L653.6,206.5 L653.1,211.0 L653.6,210.5 L655.1,210.0 L656.6,210.0 L658.2,210.5 L659.2,211.5 L659.7,212.9 L659.7,213.9 L659.2,215.4 L658.2,216.4 L656.6,216.9 L655.1,216.9 L653.6,216.4 L653.1,215.9 L652.5,214.9 M516.4,224.3 L516.4,234.7 M516.4,234.7 L522.5,234.7 M527.2,227.8 L526.1,228.3 L525.1,229.2 L524.6,230.7 L524.6,231.7 L525.1,233.2 L526.1,234.2 L527.2,234.7 L528.7,234.7 L529.7,234.2 L530.7,233.2 L531.2,231.7 L531.2,230.7 L530.7,229.2 L529.7,228.3 L528.7,227.8 L527.2,227.8 M534.8,227.8 L534.8,234.7 M534.8,229.7 L536.4,228.3 L537.4,227.8 L538.9,227.8 L540.0,228.3 L540.5,229.7 L540.5,234.7 M550.2,227.8 L550.2,235.6 L549.7,237.1 L549.2,237.6 L548.1,238.1 L546.6,238.1 L545.6,237.6 M550.2,229.2 L549.2,228.3 L548.1,227.8 L546.6,227.8 L545.6,228.3 L544.6,229.2 L544.0,230.7 L544.0,231.7 L544.6,233.2 L545.6,234.2 L546.6,234.7 L548.1,234.7 L549.2,234.2 L550.2,233.2 M553.8,224.3 L554.3,224.8 L554.8,224.3 L554.3,223.8 L553.8,224.3 M554.3,227.8 L554.3,234.7 M558.9,224.3 L558.9,232.7 L559.4,234.2 L560.4,234.7 L561.5,234.7 M557.4,227.8 L560.9,227.8 M564.5,227.8 L564.5,232.7 L565.0,234.2 L566.1,234.7 L567.6,234.7 L568.6,234.2 L570.2,232.7 M570.2,227.8 L570.2,234.7 M579.9,224.3 L579.9,234.7 M579.9,229.2 L578.9,228.3 L577.8,227.8 L576.3,227.8 L575.3,228.3 L574.3,229.2 L573.7,230.7 L573.7,231.7 L574.3,233.2 L575.3,234.2 L576.3,234.7 L577.8,234.7 L578.9,234.2 L579.9,233.2 M583.5,230.7 L589.6,230.7 L589.6,229.7 L589.1,228.8 L588.6,228.3 L587.6,227.8 L586.0,227.8 L585.0,228.3 L584.0,229.2 L583.5,230.7 L583.5,231.7 L584.0,233.2 L585.0,234.2 L586.0,234.7 L587.6,234.7 L588.6,234.2 L589.6,233.2 M593.7,227.8 L593.2,228.3 L593.7,228.8 L594.2,228.3 L593.7,227.8 M593.7,233.7 L593.2,234.2 L593.7,234.7 L594.2,234.2 L593.7,233.7 M610.5,230.2 L619.7,230.2 M624.8,226.3 L625.9,225.8 L627.4,224.3 L627.4,234.7 M634.1,226.8 L634.1,226.3 L634.6,225.3 L635.1,224.8 L636.1,224.3 L638.1,224.3 L639.2,224.8 L639.7,225.3 L640.2,226.3 L640.2,227.3 L639.7,228.3 L638.7,229.7 L633.5,234.7 L640.7,234.7 M645.3,226.3 L646.3,225.8 L647.9,224.3 L647.9,234.7 M655.0,233.7 L654.5,234.2 L655.0,234.7 L655.6,234.2 L655.0,233.7 M659.7,226.8 L659.7,226.3 L660.2,225.3 L660.7,224.8 L661.7,224.3 L663.7,224.3 L664.8,224.8 L665.3,225.3 L665.8,226.3 L665.8,227.3 L665.3,228.3 L664.3,229.7 L659.1,234.7 L666.3,234.7 M670.4,224.3 L676.0,224.3 L673.0,228.3 L674.5,228.3 L675.5,228.8 L676.0,229.2 L676.5,230.7 L676.5,231.7 L676.0,233.2 L675.0,234.2 L673.5,234.7 L671.9,234.7 L670.4,234.2 L669.9,233.7 L669.4,232.7 M516.4,242.1 L516.4,252.4 M516.4,242.1 L520.0,242.1 L521.5,242.6 L522.5,243.6 L523.1,244.6 L523.6,246.0 L523.6,248.5 L523.1,250.0 L522.5,251.0 L521.5,251.9 L520.0,252.4 L516.4,252.4 M526.6,242.1 L527.2,242.6 L527.7,242.1 L527.2,241.6 L526.6,242.1 M527.2,245.6 L527.2,252.4 M536.4,247.0 L535.9,246.0 L534.3,245.6 L532.8,245.6 L531.2,246.0 L530.7,247.0 L531.2,248.0 L532.3,248.5 L534.8,249.0 L535.9,249.5 L536.4,250.5 L536.4,251.0 L535.9,251.9 L534.3,252.4 L532.8,252.4 L531.2,251.9 L530.7,251.0 M540.5,242.1 L540.5,250.5 L541.0,251.9 L542.0,252.4 L543.0,252.4 M538.9,245.6 L542.5,245.6 M551.7,245.6 L551.7,252.4 M551.7,247.0 L550.7,246.0 L549.7,245.6 L548.1,245.6 L547.1,246.0 L546.1,247.0 L545.6,248.5 L545.6,249.5 L546.1,251.0 L547.1,251.9 L548.1,252.4 L549.7,252.4 L550.7,251.9 L551.7,251.0 M555.8,245.6 L555.8,252.4 M555.8,247.5 L557.4,246.0 L558.4,245.6 L559.9,245.6 L560.9,246.0 L561.5,247.5 L561.5,252.4 M571.2,247.0 L570.2,246.0 L569.1,245.6 L567.6,245.6 L566.6,246.0 L565.6,247.0 L565.0,248.5 L565.0,249.5 L565.6,251.0 L566.6,251.9 L567.6,252.4 L569.1,252.4 L570.2,251.9 L571.2,251.0 M574.3,248.5 L580.4,248.5 L580.4,247.5 L579.9,246.5 L579.4,246.0 L578.4,245.6 L576.8,245.6 L575.8,246.0 L574.8,247.0 L574.3,248.5 L574.3,249.5 L574.8,251.0 L575.8,251.9 L576.8,252.4 L578.4,252.4 L579.4,251.9 L580.4,251.0 M584.5,245.6 L584.0,246.0 L584.5,246.5 L585.0,246.0 L584.5,245.6 M584.5,251.5 L584.0,251.9 L584.5,252.4 L585.0,251.9 L584.5,251.5 M600.1,244.6 L600.1,244.1 L600.6,243.1 L601.1,242.6 L602.2,242.1 L604.2,242.1 L605.2,242.6 L605.7,243.1 L606.3,244.1 L606.3,245.1 L605.7,246.0 L604.7,247.5 L599.6,252.4 L606.8,252.4 M610.4,244.6 L610.4,244.1 L610.9,243.1 L611.4,242.6 L612.4,242.1 L614.4,242.1 L615.5,242.6 L616.0,243.1 L616.5,244.1 L616.5,245.1 L616.0,246.0 L615.0,247.5 L609.8,252.4 L617.0,252.4 M626.7,245.6 L626.2,247.0 L625.2,248.0 L623.7,248.5 L623.2,248.5 L621.6,248.0 L620.6,247.0 L620.1,245.6 L620.1,245.1 L620.6,243.6 L621.6,242.6 L623.2,242.1 L623.7,242.1 L625.2,242.6 L626.2,243.6 L626.7,245.6 L626.7,248.0 L626.2,250.5 L625.2,251.9 L623.7,252.4 L622.6,252.4 L621.1,251.9 L620.6,251.0 M631.3,251.5 L630.8,251.9 L631.3,252.4 L631.9,251.9 L631.3,251.5 M642.6,242.1 L637.5,252.4 M635.4,242.1 L642.6,242.1 M646.2,244.6 L646.2,244.1 L646.7,243.1 L647.2,242.6 L648.2,242.1 L650.3,242.1 L651.3,242.6 L651.8,243.1 L652.3,244.1 L652.3,245.1 L651.8,246.0 L650.8,247.5 L645.7,252.4 L652.8,252.4 M520.5,259.9 L516.4,270.2 M520.5,259.9 L524.6,270.2 M517.9,266.8 L523.1,266.8 M532.3,263.3 L526.6,270.2 M526.6,263.3 L532.3,263.3 M526.6,270.2 L532.3,270.2 M535.3,259.9 L535.9,260.4 L536.4,259.9 L535.9,259.4 L535.3,259.9 M535.9,263.3 L535.9,270.2 M540.0,263.3 L540.0,270.2 M540.0,265.3 L541.5,263.8 L542.5,263.3 L544.0,263.3 L545.1,263.8 L545.6,265.3 L545.6,270.2 M545.6,265.3 L547.1,263.8 L548.1,263.3 L549.7,263.3 L550.7,263.8 L551.2,265.3 L551.2,270.2 M555.3,263.3 L555.3,268.3 L555.8,269.7 L556.8,270.2 L558.4,270.2 L559.4,269.7 L560.9,268.3 M560.9,263.3 L560.9,270.2 M565.6,259.9 L565.6,268.3 L566.1,269.7 L567.1,270.2 L568.1,270.2 M564.0,263.3 L567.6,263.3 M571.2,259.9 L571.2,270.2 M571.2,265.3 L572.7,263.8 L573.7,263.3 L575.3,263.3 L576.3,263.8 L576.8,265.3 L576.8,270.2 M581.4,263.3 L580.9,263.8 L581.4,264.3 L581.9,263.8 L581.4,263.3 M581.4,269.2 L580.9,269.7 L581.4,270.2 L581.9,269.7 L581.4,269.2 M599.1,261.9 L600.1,261.4 L601.7,259.9 L601.7,270.2 M614.5,263.3 L613.9,264.8 L612.9,265.8 L611.4,266.3 L610.9,266.3 L609.3,265.8 L608.3,264.8 L607.8,263.3 L607.8,262.8 L608.3,261.4 L609.3,260.4 L610.9,259.9 L611.4,259.9 L612.9,260.4 L613.9,261.4 L614.5,263.3 L614.5,265.8 L613.9,268.3 L612.9,269.7 L611.4,270.2 L610.4,270.2 L608.8,269.7 L608.3,268.7 M621.1,259.9 L619.6,260.4 L618.6,261.9 L618.0,264.3 L618.0,265.8 L618.6,268.3 L619.6,269.7 L621.1,270.2 L622.1,270.2 L623.7,269.7 L624.7,268.3 L625.2,265.8 L625.2,264.3 L624.7,261.9 L623.7,260.4 L622.1,259.9 L621.1,259.9 M629.3,269.2 L628.8,269.7 L629.3,270.2 L629.8,269.7 L629.3,269.2 M634.4,259.9 L640.1,259.9 L637.0,263.8 L638.5,263.8 L639.5,264.3 L640.1,264.8 L640.6,266.3 L640.6,267.3 L640.1,268.7 L639.0,269.7 L637.5,270.2 L636.0,270.2 L634.4,269.7 L633.9,269.2 L633.4,268.3 M646.2,259.9 L644.7,260.4 L644.2,261.4 L644.2,262.3 L644.7,263.3 L645.7,263.8 L647.7,264.3 L649.3,264.8 L650.3,265.8 L650.8,266.8 L650.8,268.3 L650.3,269.2 L649.8,269.7 L648.3,270.2 L646.2,270.2 L644.7,269.7 L644.2,269.2 L643.6,268.3 L643.6,266.8 L644.2,265.8 L645.2,264.8 L646.7,264.3 L648.8,263.8 L649.8,263.3 L650.3,262.3 L650.3,261.4 L649.8,260.4 L648.3,259.9 L646.2,259.9 M516.4,277.7 L516.4,288.0 M516.4,277.7 L521.0,277.7 L522.5,278.2 L523.1,278.7 L523.6,279.6 L523.6,280.6 L523.1,281.6 L522.5,282.1 L521.0,282.6 L516.4,282.6 M520.0,282.6 L523.6,288.0 M526.6,284.1 L532.8,284.1 L532.8,283.1 L532.3,282.1 L531.8,281.6 L530.7,281.1 L529.2,281.1 L528.2,281.6 L527.2,282.6 L526.6,284.1 L526.6,285.0 L527.2,286.5 L528.2,287.5 L529.2,288.0 L530.7,288.0 L531.8,287.5 L532.8,286.5 M542.0,282.6 L541.0,281.6 L540.0,281.1 L538.4,281.1 L537.4,281.6 L536.4,282.6 L535.9,284.1 L535.9,285.0 L536.4,286.5 L537.4,287.5 L538.4,288.0 L540.0,288.0 L541.0,287.5 L542.0,286.5 M547.6,281.1 L546.6,281.6 L545.6,282.6 L545.1,284.1 L545.1,285.0 L545.6,286.5 L546.6,287.5 L547.6,288.0 L549.2,288.0 L550.2,287.5 L551.2,286.5 L551.7,285.0 L551.7,284.1 L551.2,282.6 L550.2,281.6 L549.2,281.1 L547.6,281.1 M555.3,281.1 L555.3,288.0 M555.3,284.1 L555.8,282.6 L556.8,281.6 L557.9,281.1 L559.4,281.1 M567.6,277.7 L567.6,288.0 M567.6,282.6 L566.6,281.6 L565.6,281.1 L564.0,281.1 L563.0,281.6 L562.0,282.6 L561.5,284.1 L561.5,285.0 L562.0,286.5 L563.0,287.5 L564.0,288.0 L565.6,288.0 L566.6,287.5 L567.6,286.5 M576.8,282.6 L576.3,281.6 L574.8,281.1 L573.2,281.1 L571.7,281.6 L571.2,282.6 L571.7,283.6 L572.7,284.1 L575.3,284.6 L576.3,285.0 L576.8,286.0 L576.8,286.5 L576.3,287.5 L574.8,288.0 L573.2,288.0 L571.7,287.5 L571.2,286.5 M580.9,281.1 L580.4,281.6 L580.9,282.1 L581.4,281.6 L580.9,281.1 M580.9,287.0 L580.4,287.5 L580.9,288.0 L581.4,287.5 L580.9,287.0 M618.0,279.6 L619.0,279.1 L620.6,277.7 L620.6,288.0 M627.2,280.1 L627.2,279.6 L627.7,278.7 L628.2,278.2 L629.3,277.7 L631.3,277.7 L632.3,278.2 L632.8,278.7 L633.4,279.6 L633.4,280.6 L632.8,281.6 L631.8,283.1 L626.7,288.0 L633.9,288.0 M638.5,279.6 L639.5,279.1 L641.0,277.7 L641.0,288.0 M649.7,277.7 L648.2,278.2 L647.7,279.1 L647.7,280.1 L648.2,281.1 L649.2,281.6 L651.3,282.1 L652.8,282.6 L653.8,283.6 L654.4,284.6 L654.4,286.0 L653.8,287.0 L653.3,287.5 L651.8,288.0 L649.7,288.0 L648.2,287.5 L647.7,287.0 L647.2,286.0 L647.2,284.6 L647.7,283.6 L648.7,282.6 L650.3,282.1 L652.3,281.6 L653.3,281.1 L653.8,280.1 L653.8,279.1 L653.3,278.2 L651.8,277.7 L649.7,277.7" fill="none" stroke="#000" stroke-width="1.4" stroke-linecap="round" stroke-linejoin="round"/>
<path d="M197.6,488.9 L196.2,488.9 L194.8,489.5 L194.0,491.5 L194.0,502.9 M191.9,493.5 L196.9,493.5 M201.8,493.5 L201.8,502.9 M201.8,497.6 L202.6,495.6 L204.0,494.2 L205.4,493.5 L207.5,493.5 M210.4,497.6 L218.9,497.6 L218.9,496.2 L218.2,494.9 L217.4,494.2 L216.0,493.5 L213.9,493.5 L212.5,494.2 L211.1,495.6 L210.4,497.6 L210.4,498.9 L211.1,500.9 L212.5,502.2 L213.9,502.9 L216.0,502.9 L217.4,502.2 L218.9,500.9 M231.6,493.5 L231.6,507.6 M231.6,495.6 L230.2,494.2 L228.8,493.5 L226.7,493.5 L225.2,494.2 L223.8,495.6 L223.1,497.6 L223.1,498.9 L223.8,500.9 L225.2,502.2 L226.7,502.9 L228.8,502.9 L230.2,502.2 L231.6,500.9 M237.3,493.5 L237.3,500.2 L238.0,502.2 L239.4,502.9 L241.5,502.9 L243.0,502.2 L245.1,500.2 M245.1,493.5 L245.1,502.9 M250.1,497.6 L258.6,497.6 L258.6,496.2 L257.9,494.9 L257.1,494.2 L255.7,493.5 L253.6,493.5 L252.2,494.2 L250.8,495.6 L250.1,497.6 L250.1,498.9 L250.8,500.9 L252.2,502.2 L253.6,502.9 L255.7,502.9 L257.1,502.2 L258.6,500.9 M263.5,493.5 L263.5,502.9 M263.5,496.2 L265.7,494.2 L267.1,493.5 L269.2,493.5 L270.6,494.2 L271.3,496.2 L271.3,502.9 M284.8,495.6 L283.4,494.2 L282.0,493.5 L279.8,493.5 L278.4,494.2 L277.0,495.6 L276.3,497.6 L276.3,498.9 L277.0,500.9 L278.4,502.2 L279.8,502.9 L282.0,502.9 L283.4,502.2 L284.8,500.9 M288.3,493.5 L292.6,502.9 M296.9,493.5 L292.6,502.9 L291.2,505.6 L289.8,506.9 L288.3,507.6 L287.6,507.6 M317.4,486.2 L316.0,487.5 L314.6,489.5 L313.2,492.2 L312.4,495.6 L312.4,498.2 L313.2,501.6 L314.6,504.2 L316.0,506.2 L317.4,507.6 M322.4,488.9 L322.4,502.9 M332.3,488.9 L332.3,502.9 M322.4,495.6 L332.3,495.6 M345.1,493.5 L337.3,502.9 M337.3,493.5 L345.1,493.5 M337.3,502.9 L345.1,502.9 M349.3,486.2 L350.7,487.5 L352.2,489.5 L353.6,492.2 L354.3,495.6 L354.3,498.2 L353.6,501.6 L352.2,504.2 L350.7,506.2 L349.3,507.6" fill="none" stroke="#000" stroke-width="1.8" stroke-linecap="round" stroke-linejoin="round"/>
</g>
</svg></body></html>
